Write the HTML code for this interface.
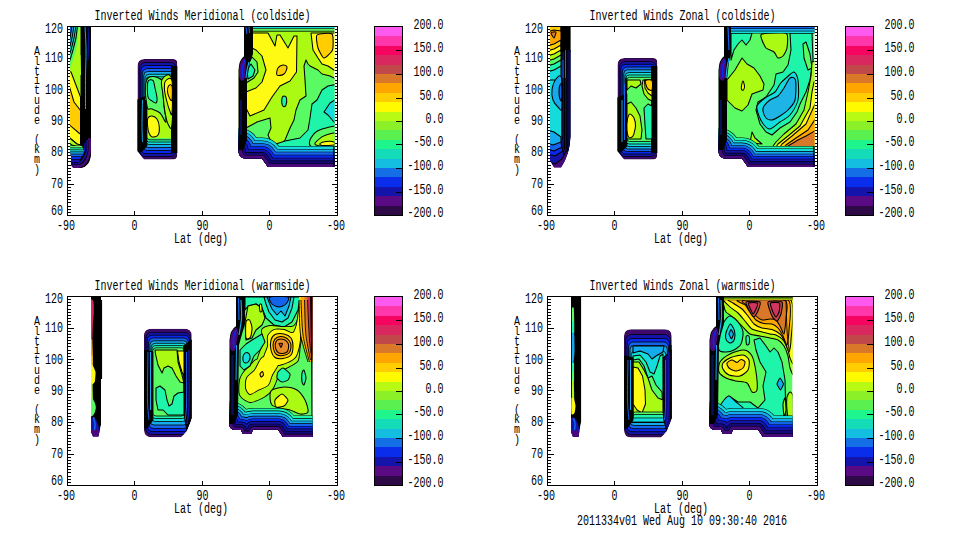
<!DOCTYPE html>
<html><head><meta charset="utf-8"><title>Inverted Winds</title>
<style>
html,body{margin:0;padding:0;background:#fff;}
svg{display:block}
text{font-family:"Liberation Mono",monospace;font-size:10px;fill:#000;}
</style></head><body>
<svg width="960" height="540" viewBox="0 0 960 540">
<defs><clipPath id="cp"><rect x="0" y="0" width="271" height="190"/></clipPath></defs>
<rect width="960" height="540" fill="#fff"/>
<g transform="translate(67,26)">
<path d="M0.5,189.5 h6 M270.5,189.5 h-6 M0.5,186.5 h3 M270.5,186.5 h-3 M0.5,183.5 h3 M270.5,183.5 h-3 M0.5,180.5 h3 M270.5,180.5 h-3 M0.5,176.5 h3 M270.5,176.5 h-3 M0.5,173.5 h3 M270.5,173.5 h-3 M0.5,170.5 h3 M270.5,170.5 h-3 M0.5,167.5 h3 M270.5,167.5 h-3 M0.5,164.5 h3 M270.5,164.5 h-3 M0.5,161.5 h3 M270.5,161.5 h-3 M0.5,158.5 h6 M270.5,158.5 h-6 M0.5,154.5 h3 M270.5,154.5 h-3 M0.5,151.5 h3 M270.5,151.5 h-3 M0.5,148.5 h3 M270.5,148.5 h-3 M0.5,145.5 h3 M270.5,145.5 h-3 M0.5,142.5 h3 M270.5,142.5 h-3 M0.5,139.5 h3 M270.5,139.5 h-3 M0.5,135.5 h3 M270.5,135.5 h-3 M0.5,132.5 h3 M270.5,132.5 h-3 M0.5,129.5 h3 M270.5,129.5 h-3 M0.5,126.5 h6 M270.5,126.5 h-6 M0.5,123.5 h3 M270.5,123.5 h-3 M0.5,120.5 h3 M270.5,120.5 h-3 M0.5,117.5 h3 M270.5,117.5 h-3 M0.5,113.5 h3 M270.5,113.5 h-3 M0.5,110.5 h3 M270.5,110.5 h-3 M0.5,107.5 h3 M270.5,107.5 h-3 M0.5,104.5 h3 M270.5,104.5 h-3 M0.5,101.5 h3 M270.5,101.5 h-3 M0.5,98.5 h3 M270.5,98.5 h-3 M0.5,94.5 h6 M270.5,94.5 h-6 M0.5,91.5 h3 M270.5,91.5 h-3 M0.5,88.5 h3 M270.5,88.5 h-3 M0.5,85.5 h3 M270.5,85.5 h-3 M0.5,82.5 h3 M270.5,82.5 h-3 M0.5,79.5 h3 M270.5,79.5 h-3 M0.5,76.5 h3 M270.5,76.5 h-3 M0.5,72.5 h3 M270.5,72.5 h-3 M0.5,69.5 h3 M270.5,69.5 h-3 M0.5,66.5 h3 M270.5,66.5 h-3 M0.5,63.5 h6 M270.5,63.5 h-6 M0.5,60.5 h3 M270.5,60.5 h-3 M0.5,57.5 h3 M270.5,57.5 h-3 M0.5,54.5 h3 M270.5,54.5 h-3 M0.5,50.5 h3 M270.5,50.5 h-3 M0.5,47.5 h3 M270.5,47.5 h-3 M0.5,44.5 h3 M270.5,44.5 h-3 M0.5,41.5 h3 M270.5,41.5 h-3 M0.5,38.5 h3 M270.5,38.5 h-3 M0.5,35.5 h3 M270.5,35.5 h-3 M0.5,32.5 h6 M270.5,32.5 h-6 M0.5,28.5 h3 M270.5,28.5 h-3 M0.5,25.5 h3 M270.5,25.5 h-3 M0.5,22.5 h3 M270.5,22.5 h-3 M0.5,19.5 h3 M270.5,19.5 h-3 M0.5,16.5 h3 M270.5,16.5 h-3 M0.5,13.5 h3 M270.5,13.5 h-3 M0.5,9.5 h3 M270.5,9.5 h-3 M0.5,6.5 h3 M270.5,6.5 h-3 M0.5,3.5 h3 M270.5,3.5 h-3 M0.5,0.5 h6 M270.5,0.5 h-6 M67.5,0.5 v5 M67.5,189.5 v-5 M135.5,0.5 v5 M135.5,189.5 v-5 M202.5,0.5 v5 M202.5,189.5 v-5" stroke="#000" stroke-width="1" fill="none" shape-rendering="crispEdges"/>
<g clip-path="url(#cp)"><g transform="translate(-67,-26)">
<clipPath id="b1"><path d="M70,25 H91 V152 Q91,168 78,168 H75 Q71,168 71,162 V156 L70,152 Z"/></clipPath>
<g clip-path="url(#b1)">
<path d="M70,25 H91 V152 Q91,168 78,168 H75 Q71,168 71,162 V156 L70,152 Z" fill="#000000"/>
<rect x="66" y="26" width="14.5" height="74" rx="0" fill="#aafa14"/>
<path d="M66.0,26.0 L79.0,26.0 L78.0,38.0 L76.0,50.0 L73.0,60.0 L70.0,68.0 L66.0,72.0 Z" fill="#5afa64"/>
<path d="M66.0,26.0 L77.5,26.0 L76.0,38.0 L73.0,50.0 L70.0,60.0 L66.0,66.0 Z" fill="#1ef5aa" stroke="#000" stroke-width="1.05" stroke-linejoin="round"/>
<path d="M66.0,26.0 L76.0,26.0 L74.0,38.0 L71.0,50.0 L69.0,56.0 L66.0,60.0 Z" fill="#14dcdc" stroke="#000" stroke-width="1.05" stroke-linejoin="round"/>
<path d="M66.0,26.0 L74.0,26.0 L72.0,38.0 L69.0,50.0 L66.0,55.0 Z" fill="#14aaeb" stroke="#000" stroke-width="1.05" stroke-linejoin="round"/>
<path d="M66.0,26.0 L72.0,26.0 L70.0,38.0 L68.0,46.0 L66.0,49.0 Z" fill="#1464eb" stroke="#000" stroke-width="1.05" stroke-linejoin="round"/>
<path d="M66.0,26.0 L70.0,26.0 L68.5,34.0 L66.0,41.0 Z" fill="#0a28eb" stroke="#000" stroke-width="1.05" stroke-linejoin="round"/>
<path d="M66.0,71.0 L71.0,72.0 L80.5,97.0 L80.5,146.0 L77.0,144.0 L66.0,135.0 Z" fill="#fffa14" stroke="#000" stroke-width="1.05" stroke-linejoin="round"/>
<path d="M66.0,75.0 L74.0,102.0 L80.5,110.5 L80.5,134.0 L79.5,133.5 L66.0,122.0 Z" fill="#ffcd00" stroke="#000" stroke-width="1.05" stroke-linejoin="round"/>
<path d="M66.0,135.0 L77.0,144.0 L81.0,145.0 L81.0,148.0 L66.0,148.0 Z" fill="#aafa14" stroke="#000" stroke-width="1.05" stroke-linejoin="round"/>
<path d="M66.0,141.0 L72.0,145.0 L78.0,147.0 L66.0,148.0 Z" fill="#5afa64" stroke="#000" stroke-width="1.05" stroke-linejoin="round"/>
<rect x="66" y="145.5" width="20" height="22.5" rx="0" fill="#000000"/>
<rect x="66" y="146" width="18" height="1.5" rx="0" fill="#5afa64"/>
<rect x="66" y="148.2" width="18" height="1.3000000000000114" rx="0" fill="#1ef5aa"/>
<rect x="66" y="150.2" width="18" height="1.3000000000000114" rx="0" fill="#14dcdc"/>
<rect x="66" y="152.2" width="18" height="1.5" rx="0" fill="#14aaeb"/>
<rect x="66" y="154.4" width="18" height="1.9000000000000057" rx="0" fill="#1464eb"/>
<rect x="66" y="157" width="18" height="2" rx="0" fill="#0a28eb"/>
<rect x="66" y="159.6" width="18" height="2.4000000000000057" rx="0" fill="#1414aa"/>
<rect x="66" y="162.5" width="18" height="2.0" rx="0" fill="#14087a"/>
<rect x="66" y="165" width="20" height="3" rx="0" fill="#480a7a"/>
<path d="M80.5,140.0 C82.0,138.3 89.1,131.0 91.0,136.0 C92.9,141.0 93.8,164.3 92.0,170.0 C90.2,175.7 82.0,171.7 80.0,170.0 C78.0,168.3 79.3,163.0 80.0,160.0 C80.7,157.0 83.7,154.3 84.0,152.0 C84.3,149.7 82.6,148.0 82.0,146.0 C81.4,144.0 79.0,141.7 80.5,140.0 Z" fill="#000000"/>
<path d="M89.5,138.0 C89.5,140.3 90.2,147.8 89.5,152.0 C88.8,156.2 86.9,160.5 85.0,163.0 C83.1,165.5 79.2,166.3 78.0,167.0" fill="none" stroke="#480a7a" stroke-width="2.5"/>
<path d="M87.0,140.0 C87.0,141.8 87.7,147.7 87.0,151.0 C86.3,154.3 84.5,157.8 83.0,160.0 C81.5,162.2 78.8,163.3 78.0,164.0" fill="none" stroke="#1414aa" stroke-width="1.5"/>
<path d="M85.0,143.0 C84.9,144.2 85.0,147.8 84.5,150.0 C84.0,152.2 82.4,155.0 82.0,156.0" fill="none" stroke="#0a28eb" stroke-width="1"/>
<path d="M85.0,26.0 C85.2,30.0 85.9,41.5 86.0,50.0 C86.1,58.5 85.6,67.2 85.5,77.0 C85.4,86.8 85.5,103.7 85.5,109.0" fill="none" stroke="#14aaeb" stroke-width="1"/>
<path d="M88.0,26.0 C88.1,28.3 88.5,34.3 88.5,40.0 C88.5,45.7 88.1,56.7 88.0,60.0" fill="none" stroke="#1414aa" stroke-width="1"/>
<path d="M80.0,55.0 L80.5,75.0" fill="none" stroke="#aafa14" stroke-width="1"/>
</g>
<clipPath id="b2"><path d="M137.5,66 Q137.5,59 144.5,59 H173 Q177.3,59 177.3,63 V155 Q177.3,159.5 173,159.5 H144 L137.5,151 Z"/></clipPath>
<g clip-path="url(#b2)">
<path d="M137.5,66 Q137.5,59 144.5,59 H173 Q177.3,59 177.3,63 V155 Q177.3,159.5 173,159.5 H144 L137.5,151 Z" fill="#2d0a46"/>
<rect x="138.3" y="60" width="38.5" height="98.6" rx="6" fill="#3e0a70"/>
<rect x="139.3" y="62.5" width="37.19999999999999" height="94.0" rx="6" fill="#1414aa" stroke="#000" stroke-width="0.8"/>
<rect x="140.8" y="65.5" width="35.19999999999999" height="88.0" rx="5" fill="#0a28eb" stroke="#000" stroke-width="0.8"/>
<rect x="142.3" y="68.5" width="33.19999999999999" height="82.0" rx="5" fill="#1464eb" stroke="#000" stroke-width="0.8"/>
<rect x="143.8" y="71.5" width="31.19999999999999" height="76.0" rx="4" fill="#14aaeb" stroke="#000" stroke-width="0.8"/>
<rect x="145" y="74.3" width="29.5" height="70.2" rx="4" fill="#14dcdc" stroke="#000" stroke-width="0.8"/>
<rect x="146" y="76.8" width="28" height="65.2" rx="3" fill="#1ef5aa" stroke="#000" stroke-width="0.8"/>
<rect x="146.8" y="79" width="26.69999999999999" height="60.80000000000001" rx="3" fill="#5afa64" stroke="#000" stroke-width="0.8"/>
<rect x="147.3" y="80" width="24.69999999999999" height="58" rx="1" fill="#aafa14"/>
<rect x="171" y="66" width="7" height="87" rx="0" fill="#000000"/>
<path d="M137.0,100.0 L146.8,96.0 L146.8,146.0 L141.0,152.0 L137.0,152.0 Z" fill="#000000" stroke="#000" stroke-width="1.05" stroke-linejoin="round"/>
<path d="M142.5,100.0 C142.4,104.2 142.0,118.0 142.0,125.0 C142.0,132.0 142.4,139.2 142.5,142.0" fill="none" stroke="#14aaeb" stroke-width="1"/>
<path d="M146.0,80.0 L145.5,100.0" fill="none" stroke="#14aaeb" stroke-width="1"/>
<path d="M147.0,79.5 C149.8,74.2 157.8,77.0 161.0,79.5 C164.2,82.0 162.4,86.7 163.0,92.0 C163.6,97.3 163.4,100.0 164.0,106.0 C164.6,112.0 166.8,120.6 166.0,122.0 C165.2,123.4 162.8,115.6 160.0,113.0 C157.2,110.4 154.6,110.4 152.0,109.0 C149.4,107.6 148.0,111.9 147.0,106.0 C146.0,100.1 144.2,84.8 147.0,79.5 Z" fill="#5afa64" stroke="#000" stroke-width="1.05"/>
<path d="M147.8,82.0 C148.6,79.2 151.8,79.5 153.0,80.5 C154.2,81.5 154.3,85.1 155.0,88.0 C155.7,90.9 156.8,95.5 157.0,98.0 C157.2,100.5 156.8,102.5 156.0,103.0 C155.2,103.5 153.3,102.0 152.0,101.0 C150.7,100.0 148.7,100.2 148.0,97.0 C147.3,93.8 147.0,84.8 147.8,82.0 Z" fill="#1ef5aa" stroke="#000" stroke-width="1.05"/>
<path d="M162.0,79.5 C163.8,76.4 170.0,70.6 172.0,79.5 C174.0,88.4 172.8,115.1 172.0,124.0 C171.2,132.9 169.4,126.4 168.0,124.0 C166.6,121.6 166.0,117.8 165.0,112.0 C164.0,106.2 163.6,101.5 163.0,95.0 C162.4,88.5 160.2,82.6 162.0,79.5 Z" fill="#aafa14" stroke="#000" stroke-width="1.05"/>
<path d="M165.5,81.0 C166.8,79.5 170.9,75.7 172.0,81.0 C173.1,86.3 172.4,108.2 172.0,113.0 C171.6,117.8 170.4,112.2 169.5,110.0 C168.6,107.8 167.3,103.3 166.5,100.0 C165.7,96.7 164.7,93.2 164.5,90.0 C164.3,86.8 164.2,82.5 165.5,81.0 Z" fill="#fffa14" stroke="#000" stroke-width="1.05"/>
<path d="M168.5,86.0 C169.2,85.0 171.4,83.7 172.0,86.0 C172.6,88.3 172.4,98.0 172.0,100.0 C171.6,102.0 170.2,99.3 169.5,98.0 C168.8,96.7 167.7,94.0 167.5,92.0 C167.3,90.0 167.8,87.0 168.5,86.0 Z" fill="#ffcd00" stroke="#000" stroke-width="1.05"/>
<path d="M148.0,118.0 C148.8,116.5 150.5,115.8 152.0,116.0 C153.5,116.2 155.8,117.2 157.0,119.0 C158.2,120.8 159.1,124.3 159.3,127.0 C159.5,129.7 159.2,133.3 158.0,135.0 C156.8,136.7 153.5,137.3 152.0,137.0 C150.5,136.7 149.8,135.0 149.0,133.0 C148.2,131.0 147.7,127.5 147.5,125.0 C147.3,122.5 147.2,119.5 148.0,118.0 Z" fill="#fffa14" stroke="#000" stroke-width="1.05"/>
</g>
<clipPath id="b3"><path d="M244,25 V56 Q239,60 238.5,70 V150 Q238.5,158.5 246,158.5 H262 L268,167 H334.5 V25 Z"/></clipPath>
<g clip-path="url(#b3)">
<path d="M244,25 V56 Q239,60 238.5,70 V150 Q238.5,158.5 246,158.5 H262 L268,167 H334.5 V25 Z" fill="#aafa14"/>
<rect x="250" y="26" width="88" height="2.6000000000000014" rx="0" fill="#14dcdc"/>
<rect x="250" y="28.4" width="88" height="0.8000000000000007" rx="0" fill="#000000"/>
<rect x="250" y="29.2" width="88" height="1.8000000000000007" rx="0" fill="#5afa64"/>
<rect x="250" y="30.8" width="88" height="0.8000000000000007" rx="0" fill="#000000"/>
<path d="M252.0,33.0 L268.0,33.0 L275.0,46.0 L277.0,35.0 L280.0,35.0 L288.0,48.0 L294.0,36.0 L297.0,36.0 L296.5,72.0 L290.0,81.0 L280.0,86.0 L272.0,97.0 L264.0,110.0 L250.0,116.0 L246.0,108.0 L246.0,92.0 L256.0,88.0 L262.0,82.0 L266.0,70.0 L262.0,56.0 L256.0,50.0 L252.0,48.0 Z" fill="#fffa14" stroke="#000" stroke-width="1.05" stroke-linejoin="round"/>
<path d="M311.0,33.0 L338.0,33.0 L338.0,72.0 L334.0,70.0 L328.0,66.0 L322.0,64.0 L318.0,58.0 L313.0,50.0 Z" fill="#fffa14" stroke="#000" stroke-width="1.05" stroke-linejoin="round"/>
<path d="M317.0,35.0 C318.4,33.6 330.4,32.5 332.0,34.0 C333.6,35.5 333.3,47.6 332.5,50.0 C331.7,52.4 325.4,58.2 324.0,58.0 C322.6,57.8 318.7,50.3 318.0,48.0 C317.3,45.7 315.6,36.4 317.0,35.0 Z" fill="#ffcd00" stroke="#000" stroke-width="1.05"/>
<path d="M278.0,68.0 C279.0,66.3 281.5,65.2 283.0,65.0 C284.5,64.8 286.8,65.5 287.0,67.0 C287.2,68.5 285.7,72.7 284.0,74.0 C282.3,75.3 278.0,76.0 277.0,75.0 C276.0,74.0 277.0,69.7 278.0,68.0 Z" fill="#ffcd00" stroke="#000" stroke-width="1.05"/>
<path d="M304.0,66.0 L306.0,60.0 L308.0,64.0 L310.0,66.0 L318.0,70.0 L322.0,74.0 L330.0,76.0 L338.0,80.0 L338.0,152.0 L246.0,152.0 L246.0,128.0 L257.0,122.0 L270.0,118.0 L271.0,128.0 L268.0,135.0 L272.0,144.0 L280.0,145.0 L285.0,140.0 L290.0,128.0 L294.0,120.0 L296.0,110.0 L300.0,100.0 L306.0,96.0 L305.0,80.0 Z" fill="#5afa64" stroke="#000" stroke-width="1.05" stroke-linejoin="round"/>
<path d="M338.0,84.0 L328.0,86.0 L322.0,90.0 L317.0,100.0 L312.0,104.0 L310.0,118.0 L308.0,130.0 L300.0,138.0 L285.0,141.0 L270.0,146.0 L246.0,138.0 L246.0,154.0 L338.0,154.0 Z" fill="#1ef5aa" stroke="#000" stroke-width="1.05" stroke-linejoin="round"/>
<path d="M338.0,98.0 L330.0,103.0 L324.0,112.0 L328.0,115.0 L334.0,122.0 L338.0,126.0 Z" fill="#14dcdc" stroke="#000" stroke-width="1.05" stroke-linejoin="round"/>
<path d="M340.0,127.0 C338.1,123.9 329.2,127.3 326.0,128.0 C322.8,128.7 318.1,130.4 316.0,132.0 C313.9,133.6 310.5,138.0 310.0,140.0 C309.5,142.0 308.0,145.5 312.0,147.0 C316.0,148.5 336.3,153.7 340.0,151.0 C343.7,148.3 341.9,130.1 340.0,127.0 Z" fill="#5afa64" stroke="#000" stroke-width="1.05"/>
<path d="M340.0,133.0 C338.1,131.3 328.9,134.1 326.0,135.0 C323.1,135.9 319.3,138.7 318.0,140.0 C316.7,141.3 313.1,143.9 316.0,145.0 C318.9,146.1 336.8,149.6 340.0,148.0 C343.2,146.4 341.9,134.7 340.0,133.0 Z" fill="#aafa14" stroke="#000" stroke-width="1.05"/>
<path d="M320.0,143.5 C320.5,143.0 324.1,141.7 326.0,141.5 C327.9,141.3 332.9,141.5 334.0,142.0 C335.1,142.5 335.6,144.5 334.0,145.0 C332.4,145.5 323.9,145.7 322.0,145.5 C320.1,145.3 319.5,144.0 320.0,143.5 Z" fill="#fffa14" stroke="#000" stroke-width="1.05"/>
<path d="M282.0,98.0 C282.3,96.7 283.2,96.0 284.0,96.0 C284.8,96.0 286.2,96.5 286.5,98.0 C286.8,99.5 286.5,103.6 286.0,105.0 C285.5,106.4 284.2,106.7 283.5,106.5 C282.8,106.3 282.2,105.4 282.0,104.0 C281.8,102.6 281.7,99.3 282.0,98.0 Z" fill="#1ef5aa" stroke="#000" stroke-width="1.05"/>
<path d="M252.0,57.0 L257.0,62.0 L258.0,72.0 L254.0,78.0 L246.0,83.0 L246.0,68.0 Z" fill="#5afa64" stroke="#000" stroke-width="1.05" stroke-linejoin="round"/>
<path d="M251.0,64.0 L255.0,70.0 L253.0,76.0 L248.0,79.0 L247.0,70.0 Z" fill="#1ef5aa" stroke="#000" stroke-width="1.05" stroke-linejoin="round"/>
<path d="M239,149 Q239,158.5 246,158.5 H262 L268,167 H342" fill="none" stroke="#000" stroke-width="42.1" stroke-linejoin="round" stroke-linecap="round"/>
<path d="M239,149 Q239,158.5 246,158.5 H262 L268,167 H342" fill="none" stroke="#14dcdc" stroke-width="41.0" stroke-linejoin="round" stroke-linecap="round"/>
<path d="M239,149 Q239,158.5 246,158.5 H262 L268,167 H342" fill="none" stroke="#000" stroke-width="36.24285714285715" stroke-linejoin="round" stroke-linecap="round"/>
<path d="M239,149 Q239,158.5 246,158.5 H262 L268,167 H342" fill="none" stroke="#14aaeb" stroke-width="35.142857142857146" stroke-linejoin="round" stroke-linecap="round"/>
<path d="M239,149 Q239,158.5 246,158.5 H262 L268,167 H342" fill="none" stroke="#000" stroke-width="30.385714285714286" stroke-linejoin="round" stroke-linecap="round"/>
<path d="M239,149 Q239,158.5 246,158.5 H262 L268,167 H342" fill="none" stroke="#1464eb" stroke-width="29.285714285714285" stroke-linejoin="round" stroke-linecap="round"/>
<path d="M239,149 Q239,158.5 246,158.5 H262 L268,167 H342" fill="none" stroke="#000" stroke-width="24.52857142857143" stroke-linejoin="round" stroke-linecap="round"/>
<path d="M239,149 Q239,158.5 246,158.5 H262 L268,167 H342" fill="none" stroke="#0a28eb" stroke-width="23.428571428571427" stroke-linejoin="round" stroke-linecap="round"/>
<path d="M239,149 Q239,158.5 246,158.5 H262 L268,167 H342" fill="none" stroke="#000" stroke-width="18.671428571428574" stroke-linejoin="round" stroke-linecap="round"/>
<path d="M239,149 Q239,158.5 246,158.5 H262 L268,167 H342" fill="none" stroke="#1414aa" stroke-width="17.571428571428573" stroke-linejoin="round" stroke-linecap="round"/>
<path d="M239,149 Q239,158.5 246,158.5 H262 L268,167 H342" fill="none" stroke="#000" stroke-width="12.814285714285713" stroke-linejoin="round" stroke-linecap="round"/>
<path d="M239,149 Q239,158.5 246,158.5 H262 L268,167 H342" fill="none" stroke="#14087a" stroke-width="11.714285714285714" stroke-linejoin="round" stroke-linecap="round"/>
<path d="M239,149 Q239,158.5 246,158.5 H262 L268,167 H342" fill="none" stroke="#000" stroke-width="6.957142857142857" stroke-linejoin="round" stroke-linecap="round"/>
<path d="M239,149 Q239,158.5 246,158.5 H262 L268,167 H342" fill="none" stroke="#480a7a" stroke-width="5.857142857142857" stroke-linejoin="round" stroke-linecap="round"/>
<path d="M244.0,25.0 L253.0,25.0 L253.0,54.0 L250.0,62.0 L247.0,80.0 L247.0,140.0 L243.0,150.0 L238.0,150.0 L238.0,70.0 L239.0,60.0 L244.0,56.0 Z" fill="#000000"/>
<path d="M244.0,58.0 C243.1,58.2 241.3,60.7 240.5,63.0 C239.7,65.3 239.1,69.3 239.0,72.0 C238.9,74.7 239.2,77.7 240.0,79.0 C240.8,80.3 243.1,81.5 244.0,80.0 C244.9,78.5 245.2,73.0 245.5,70.0 C245.8,67.0 246.2,64.0 246.0,62.0 C245.8,60.0 244.9,57.8 244.0,58.0 Z" fill="#480a7a"/>
<path d="M245.0,60.0 C244.6,61.3 242.8,65.0 242.5,68.0 C242.2,71.0 242.9,76.3 243.0,78.0" fill="none" stroke="#0a28eb" stroke-width="1.5"/>
<path d="M249.0,62.0 C248.7,63.3 247.5,67.3 247.0,70.0 C246.5,72.7 246.2,76.7 246.0,78.0" fill="none" stroke="#14aaeb" stroke-width="1.2"/>
<path d="M246.0,27.0 L247.0,34.0" fill="none" stroke="#1464eb" stroke-width="1"/>
<path d="M249.0,27.0 L249.5,33.0" fill="none" stroke="#1464eb" stroke-width="1"/>
<path d="M241.0,100.0 L241.0,135.0" fill="none" stroke="#0a1055" stroke-width="2"/>
<path d="M334.0,146.0 L334.0,168.0" fill="none" stroke="#000000" stroke-width="1.6"/>
</g>
</g></g>
<path d="M0.5,0.5 H270.5 V189.5 H0.5 Z" fill="none" stroke="#000" stroke-width="1" shape-rendering="crispEdges"/>
<text transform="translate(135.5,-6) scale(1,1.38)" text-anchor="middle" >Inverted Winds Meridional (coldside)</text>
<text transform="translate(-1.0,204) scale(1,1.38)" text-anchor="middle" >-90</text>
<text transform="translate(67.5,204) scale(1,1.38)" text-anchor="middle" >0</text>
<text transform="translate(135.5,204) scale(1,1.38)" text-anchor="middle" >90</text>
<text transform="translate(202.5,204) scale(1,1.38)" text-anchor="middle" >0</text>
<text transform="translate(269.0,204) scale(1,1.38)" text-anchor="middle" >-90</text>
<text transform="translate(134.0,217) scale(1,1.38)" text-anchor="middle" >Lat (deg)</text>
<text transform="translate(-4,189) scale(1,1.38)" text-anchor="end" >60</text>
<text transform="translate(-4,162) scale(1,1.38)" text-anchor="end" >70</text>
<text transform="translate(-4,130) scale(1,1.38)" text-anchor="end" >80</text>
<text transform="translate(-4,99) scale(1,1.38)" text-anchor="end" >90</text>
<text transform="translate(-4,68) scale(1,1.38)" text-anchor="end" >100</text>
<text transform="translate(-4,36) scale(1,1.38)" text-anchor="end" >110</text>
<text transform="translate(-4,7) scale(1,1.38)" text-anchor="end" >120</text>
<text transform="translate(-30,29.0) scale(1,1.22)" text-anchor="middle">A</text>
<text transform="translate(-30,38.8) scale(1,1.22)" text-anchor="middle">l</text>
<text transform="translate(-30,48.6) scale(1,1.22)" text-anchor="middle">t</text>
<text transform="translate(-30,58.4) scale(1,1.22)" text-anchor="middle">i</text>
<text transform="translate(-30,68.2) scale(1,1.22)" text-anchor="middle">t</text>
<text transform="translate(-30,78.0) scale(1,1.22)" text-anchor="middle">u</text>
<text transform="translate(-30,87.8) scale(1,1.22)" text-anchor="middle">d</text>
<text transform="translate(-30,97.6) scale(1,1.22)" text-anchor="middle">e</text>
<text transform="translate(-30,117.2) scale(1,1.22)" text-anchor="middle">(</text>
<text transform="translate(-30,127.0) scale(1,1.22)" text-anchor="middle">k</text>
<text transform="translate(-30,136.8) scale(1,1.22)" text-anchor="middle">m</text>
<text transform="translate(-30,146.6) scale(1,1.22)" text-anchor="middle">)</text>
<rect x="307" y="1.00" width="29" height="9.90" fill="#ff5af0" shape-rendering="crispEdges"/>
<rect x="307" y="10.40" width="29" height="9.90" fill="#ff37aa" shape-rendering="crispEdges"/>
<rect x="307" y="19.80" width="29" height="9.90" fill="#f5055f" shape-rendering="crispEdges"/>
<rect x="307" y="29.20" width="29" height="9.90" fill="#d8285f" shape-rendering="crispEdges"/>
<rect x="307" y="38.60" width="29" height="9.90" fill="#c04848" shape-rendering="crispEdges"/>
<rect x="307" y="48.00" width="29" height="9.90" fill="#d87828" shape-rendering="crispEdges"/>
<rect x="307" y="57.40" width="29" height="9.90" fill="#ffa500" shape-rendering="crispEdges"/>
<rect x="307" y="66.80" width="29" height="9.90" fill="#ffcd00" shape-rendering="crispEdges"/>
<rect x="307" y="76.20" width="29" height="9.90" fill="#fffa00" shape-rendering="crispEdges"/>
<rect x="307" y="85.60" width="29" height="9.90" fill="#b9fa14" shape-rendering="crispEdges"/>
<rect x="307" y="95.00" width="29" height="9.90" fill="#8cf028" shape-rendering="crispEdges"/>
<rect x="307" y="104.40" width="29" height="9.90" fill="#5af050" shape-rendering="crispEdges"/>
<rect x="307" y="113.80" width="29" height="9.90" fill="#1ef58c" shape-rendering="crispEdges"/>
<rect x="307" y="123.20" width="29" height="9.90" fill="#14dcb9" shape-rendering="crispEdges"/>
<rect x="307" y="132.60" width="29" height="9.90" fill="#14bee1" shape-rendering="crispEdges"/>
<rect x="307" y="142.00" width="29" height="9.90" fill="#146ee6" shape-rendering="crispEdges"/>
<rect x="307" y="151.40" width="29" height="9.90" fill="#0a2deb" shape-rendering="crispEdges"/>
<rect x="307" y="160.80" width="29" height="9.90" fill="#1414aa" shape-rendering="crispEdges"/>
<rect x="307" y="170.20" width="29" height="9.90" fill="#5a0a82" shape-rendering="crispEdges"/>
<rect x="307" y="179.60" width="29" height="9.90" fill="#2d0a46" shape-rendering="crispEdges"/>
<path d="M307.5,0.5 h28 v189 h-28 Z" fill="none" stroke="#000" shape-rendering="crispEdges"/>
<text transform="translate(376.5,3) scale(1,1.38)" text-anchor="end" >200.0</text>
<text transform="translate(376.5,26) scale(1,1.38)" text-anchor="end" >150.0</text>
<text transform="translate(376.5,50) scale(1,1.38)" text-anchor="end" >100.0</text>
<text transform="translate(376.5,74) scale(1,1.38)" text-anchor="end" >50.0</text>
<text transform="translate(376.5,97) scale(1,1.38)" text-anchor="end" >0.0</text>
<text transform="translate(376.5,120) scale(1,1.38)" text-anchor="end" >-50.0</text>
<text transform="translate(376.5,144) scale(1,1.38)" text-anchor="end" >-100.0</text>
<text transform="translate(376.5,168) scale(1,1.38)" text-anchor="end" >-150.0</text>
<text transform="translate(376.5,191) scale(1,1.38)" text-anchor="end" >-200.0</text>
<path d="M335.5,24.5 h-7 M335.5,48.5 h-7 M335.5,72.5 h-7 M335.5,95.5 h-7 M335.5,118.5 h-7 M335.5,142.5 h-7 M335.5,166.5 h-7" stroke="#000" stroke-width="1" fill="none" shape-rendering="crispEdges"/>
</g>
<g transform="translate(547,26)">
<path d="M0.5,189.5 h6 M270.5,189.5 h-6 M0.5,186.5 h3 M270.5,186.5 h-3 M0.5,183.5 h3 M270.5,183.5 h-3 M0.5,180.5 h3 M270.5,180.5 h-3 M0.5,176.5 h3 M270.5,176.5 h-3 M0.5,173.5 h3 M270.5,173.5 h-3 M0.5,170.5 h3 M270.5,170.5 h-3 M0.5,167.5 h3 M270.5,167.5 h-3 M0.5,164.5 h3 M270.5,164.5 h-3 M0.5,161.5 h3 M270.5,161.5 h-3 M0.5,158.5 h6 M270.5,158.5 h-6 M0.5,154.5 h3 M270.5,154.5 h-3 M0.5,151.5 h3 M270.5,151.5 h-3 M0.5,148.5 h3 M270.5,148.5 h-3 M0.5,145.5 h3 M270.5,145.5 h-3 M0.5,142.5 h3 M270.5,142.5 h-3 M0.5,139.5 h3 M270.5,139.5 h-3 M0.5,135.5 h3 M270.5,135.5 h-3 M0.5,132.5 h3 M270.5,132.5 h-3 M0.5,129.5 h3 M270.5,129.5 h-3 M0.5,126.5 h6 M270.5,126.5 h-6 M0.5,123.5 h3 M270.5,123.5 h-3 M0.5,120.5 h3 M270.5,120.5 h-3 M0.5,117.5 h3 M270.5,117.5 h-3 M0.5,113.5 h3 M270.5,113.5 h-3 M0.5,110.5 h3 M270.5,110.5 h-3 M0.5,107.5 h3 M270.5,107.5 h-3 M0.5,104.5 h3 M270.5,104.5 h-3 M0.5,101.5 h3 M270.5,101.5 h-3 M0.5,98.5 h3 M270.5,98.5 h-3 M0.5,94.5 h6 M270.5,94.5 h-6 M0.5,91.5 h3 M270.5,91.5 h-3 M0.5,88.5 h3 M270.5,88.5 h-3 M0.5,85.5 h3 M270.5,85.5 h-3 M0.5,82.5 h3 M270.5,82.5 h-3 M0.5,79.5 h3 M270.5,79.5 h-3 M0.5,76.5 h3 M270.5,76.5 h-3 M0.5,72.5 h3 M270.5,72.5 h-3 M0.5,69.5 h3 M270.5,69.5 h-3 M0.5,66.5 h3 M270.5,66.5 h-3 M0.5,63.5 h6 M270.5,63.5 h-6 M0.5,60.5 h3 M270.5,60.5 h-3 M0.5,57.5 h3 M270.5,57.5 h-3 M0.5,54.5 h3 M270.5,54.5 h-3 M0.5,50.5 h3 M270.5,50.5 h-3 M0.5,47.5 h3 M270.5,47.5 h-3 M0.5,44.5 h3 M270.5,44.5 h-3 M0.5,41.5 h3 M270.5,41.5 h-3 M0.5,38.5 h3 M270.5,38.5 h-3 M0.5,35.5 h3 M270.5,35.5 h-3 M0.5,32.5 h6 M270.5,32.5 h-6 M0.5,28.5 h3 M270.5,28.5 h-3 M0.5,25.5 h3 M270.5,25.5 h-3 M0.5,22.5 h3 M270.5,22.5 h-3 M0.5,19.5 h3 M270.5,19.5 h-3 M0.5,16.5 h3 M270.5,16.5 h-3 M0.5,13.5 h3 M270.5,13.5 h-3 M0.5,9.5 h3 M270.5,9.5 h-3 M0.5,6.5 h3 M270.5,6.5 h-3 M0.5,3.5 h3 M270.5,3.5 h-3 M0.5,0.5 h6 M270.5,0.5 h-6 M67.5,0.5 v5 M67.5,189.5 v-5 M135.5,0.5 v5 M135.5,189.5 v-5 M202.5,0.5 v5 M202.5,189.5 v-5" stroke="#000" stroke-width="1" fill="none" shape-rendering="crispEdges"/>
<g clip-path="url(#cp)"><g transform="translate(-547,-26)">
<clipPath id="b4"><path d="M550,25 H570.5 V136 Q570,154 561,167.5 H554 L550,160 Z"/></clipPath>
<g clip-path="url(#b4)">
<path d="M550,25 H570.5 V136 Q570,154 561,167.5 H554 L550,160 Z" fill="#000000"/>
<rect x="561" y="50" width="10" height="118" rx="0" fill="#0e0e66"/>
<rect x="547" y="60" width="14.5" height="80" rx="0" fill="#14dcdc"/>
<path d="M547.0,26.0 L561.0,26.0 L561.0,46.0 L547.0,50.0 Z" fill="#ffa500"/>
<path d="M547.0,26.0 L561.0,26.0 L561.0,31.0 L554.0,30.0 L547.0,32.0 Z" fill="#ffcd00" stroke="#000" stroke-width="1.05" stroke-linejoin="round"/>
<path d="M551.0,33.0 C551.2,32.4 555.7,31.5 556.0,32.0 C556.3,32.5 554.5,37.9 554.0,38.0 C553.5,38.1 550.8,33.6 551.0,33.0 Z" fill="#d87828" stroke="#000" stroke-width="1.05"/>
<path d="M547.0,46.0 L554.0,44.0 L561.0,40.0 L561.0,46.0 L554.0,50.0 L547.0,52.0 Z" fill="#ffcd00" stroke="#000" stroke-width="1.05" stroke-linejoin="round"/>
<path d="M547.0,51.0 L554.0,49.0 L561.0,45.0 L561.0,51.0 L554.0,55.0 L547.0,57.0 Z" fill="#fffa14" stroke="#000" stroke-width="1.05" stroke-linejoin="round"/>
<path d="M547.0,56.0 L554.0,54.0 L561.0,50.0 L561.0,56.0 L554.0,60.0 L547.0,62.0 Z" fill="#aafa14" stroke="#000" stroke-width="1.05" stroke-linejoin="round"/>
<path d="M547.0,61.0 L554.0,59.0 L561.0,55.0 L561.0,61.0 L554.0,65.0 L547.0,67.0 Z" fill="#5afa64" stroke="#000" stroke-width="1.05" stroke-linejoin="round"/>
<path d="M547.0,66.0 L554.0,64.0 L561.0,60.0 L561.0,67.0 L554.0,71.0 L547.0,73.0 Z" fill="#1ef5aa" stroke="#000" stroke-width="1.05" stroke-linejoin="round"/>
<path d="M547.0,72.0 L554.0,70.0 L561.0,66.0 L561.0,80.0 L547.0,80.0 Z" fill="#14dcdc" stroke="#000" stroke-width="1.05" stroke-linejoin="round"/>
<path d="M556.0,79.0 C557.6,77.0 560.5,73.2 561.5,78.0 C562.5,82.8 562.6,103.2 562.0,108.0 C561.4,112.8 559.5,108.3 558.0,107.0 C556.5,105.7 554.0,102.8 553.0,100.0 C552.0,97.2 551.5,93.5 552.0,90.0 C552.5,86.5 554.4,81.0 556.0,79.0 Z" fill="#14aaeb" stroke="#000" stroke-width="1.05"/>
<path d="M560.0,85.0 C560.5,83.8 561.7,82.5 562.0,85.0 C562.3,87.5 562.3,97.7 562.0,100.0 C561.7,102.3 560.5,100.3 560.0,99.0 C559.5,97.7 559.0,94.3 559.0,92.0 C559.0,89.7 559.5,86.2 560.0,85.0 Z" fill="#1464eb" stroke="#000" stroke-width="1.05"/>
<path d="M547.0,130.0 L554.0,132.0 L561.0,137.0 L561.0,160.0 L547.0,160.0 Z" fill="#14aaeb" stroke="#000" stroke-width="1.05" stroke-linejoin="round"/>
<path d="M547.0,143.0 L553.0,145.0 L561.0,142.0 L563.0,160.0 L547.0,160.0 Z" fill="#1464eb" stroke="#000" stroke-width="1.05" stroke-linejoin="round"/>
<path d="M547.0,149.0 L554.0,151.0 L562.0,147.0 L564.0,160.0 L547.0,162.0 Z" fill="#0a28eb" stroke="#000" stroke-width="1.05" stroke-linejoin="round"/>
<path d="M547.0,154.0 L555.0,156.0 L563.0,151.0 L566.0,165.0 L547.0,165.0 Z" fill="#1414aa" stroke="#000" stroke-width="1.05" stroke-linejoin="round"/>
<path d="M546.0,161.0 L555.0,164.0 L562.0,159.0 L566.0,152.0 L571.0,148.0 L571.0,170.0 L546.0,170.0 Z" fill="#480a7a" stroke="#000" stroke-width="1.05" stroke-linejoin="round"/>
<rect x="560.5" y="26" width="10.5" height="26" rx="0" fill="#000000"/>
<path d="M562.0,50.0 L562.0,140.0" fill="none" stroke="#000000" stroke-width="1"/>
<path d="M564.5,50.0 L564.5,150.0" fill="none" stroke="#000000" stroke-width="1"/>
<path d="M567.0,40.0 L567.0,150.0" fill="none" stroke="#000000" stroke-width="1.5"/>
<rect x="567.5" y="50" width="3.5" height="100" rx="0" fill="#0a0840"/>
<path d="M565.5,50.0 L565.5,78.0" fill="none" stroke="#1464eb" stroke-width="1"/>
<path d="M563.0,60.0 L563.0,78.0" fill="none" stroke="#1464eb" stroke-width="1"/>
</g>
<clipPath id="b5"><path d="M617.5,65 Q617.5,58 624.5,58 H653 Q657.3,58 657.3,62 V155 Q657.3,159.5 653,159.5 H624 L617.5,151 Z"/></clipPath>
<g clip-path="url(#b5)">
<path d="M617.5,65 Q617.5,58 624.5,58 H653 Q657.3,58 657.3,62 V155 Q657.3,159.5 653,159.5 H624 L617.5,151 Z" fill="#2d0a46"/>
<rect x="618.3" y="59" width="38.5" height="99.6" rx="6" fill="#3e0a70"/>
<rect x="619.3" y="61.5" width="37.200000000000045" height="95.0" rx="6" fill="#1414aa" stroke="#000" stroke-width="0.8"/>
<rect x="620.8" y="64.3" width="35.200000000000045" height="89.7" rx="5" fill="#0a28eb" stroke="#000" stroke-width="0.8"/>
<rect x="622.3" y="67" width="33.200000000000045" height="84.5" rx="5" fill="#1464eb" stroke="#000" stroke-width="0.8"/>
<rect x="623.8" y="69.8" width="31.200000000000045" height="79.2" rx="4" fill="#14aaeb" stroke="#000" stroke-width="0.8"/>
<rect x="625" y="72.5" width="29.5" height="74.0" rx="4" fill="#14dcdc" stroke="#000" stroke-width="0.8"/>
<rect x="626" y="75" width="28" height="69" rx="3" fill="#1ef5aa" stroke="#000" stroke-width="0.8"/>
<rect x="626.6" y="77.3" width="26.899999999999977" height="64.2" rx="3" fill="#5afa64" stroke="#000" stroke-width="0.8"/>
<rect x="627" y="79.5" width="25" height="59.5" rx="1" fill="#5afa64"/>
<rect x="651" y="66" width="7" height="87" rx="0" fill="#000000"/>
<path d="M617.0,98.0 L626.8,94.0 L626.8,146.0 L621.0,152.0 L617.0,152.0 Z" fill="#000000" stroke="#000" stroke-width="1.05" stroke-linejoin="round"/>
<path d="M626.0,78.0 L626.0,96.0" fill="none" stroke="#000000" stroke-width="1.5"/>
<path d="M622.0,100.0 L622.0,142.0" fill="none" stroke="#14aaeb" stroke-width="1"/>
<path d="M624.5,84.0 L624.5,140.0" fill="none" stroke="#1464eb" stroke-width="1"/>
<path d="M627.0,80.0 L640.0,80.0 L641.0,84.0 L636.0,88.0 L631.0,86.0 L627.0,90.0 Z" fill="#aafa14" stroke="#000" stroke-width="1.05" stroke-linejoin="round"/>
<path d="M643.0,80.0 L652.0,80.0 L652.0,101.0 L648.0,99.0 L644.0,94.0 L642.0,86.0 Z" fill="#aafa14" stroke="#000" stroke-width="1.05" stroke-linejoin="round"/>
<path d="M644.5,80.0 L652.0,80.0 L652.0,96.0 L648.0,93.0 L645.0,88.0 Z" fill="#fffa14" stroke="#000" stroke-width="1.05" stroke-linejoin="round"/>
<path d="M645.5,80.5 C646.3,79.9 651.1,79.2 652.0,80.5 C652.9,81.8 652.5,88.9 652.0,90.0 C651.5,91.1 648.8,89.7 648.0,89.0 C647.2,88.3 646.3,86.1 646.0,85.0 C645.7,83.9 644.7,81.1 645.5,80.5 Z" fill="#ffcd00" stroke="#000" stroke-width="1.05"/>
<path d="M627.0,104.0 L631.0,102.0 L636.0,108.0 L640.0,116.0 L642.0,130.0 L641.0,139.0 L627.0,139.0 Z" fill="#aafa14" stroke="#000" stroke-width="1.05" stroke-linejoin="round"/>
<path d="M627.5,119.0 C627.9,116.9 629.1,114.1 630.0,114.0 C630.9,113.9 633.3,116.4 634.0,118.0 C634.7,119.6 635.6,123.6 635.5,126.0 C635.4,128.4 633.9,134.5 633.0,136.0 C632.1,137.5 629.8,138.3 629.0,137.5 C628.2,136.7 627.2,132.5 627.0,130.0 C626.8,127.5 627.1,121.1 627.5,119.0 Z" fill="#fffa14" stroke="#000" stroke-width="1.05"/>
<path d="M644.0,108.0 L648.0,104.0 L652.0,106.0 L652.0,139.0 L646.0,139.0 L645.0,125.0 Z" fill="#1ef5aa" stroke="#000" stroke-width="1.05" stroke-linejoin="round"/>
</g>
<clipPath id="b6"><path d="M724,25 V56 Q719,60 718.5,70 V150 Q718.5,158.5 726,158.5 H742 L748,167 H814.5 V25 Z"/></clipPath>
<g clip-path="url(#b6)">
<path d="M724,25 V56 Q719,60 718.5,70 V150 Q718.5,158.5 726,158.5 H742 L748,167 H814.5 V25 Z" fill="#5afa64"/>
<path d="M731.0,33.0 L752.0,33.0 L750.0,40.0 L746.0,45.0 L742.0,40.0 L738.0,44.0 L734.0,50.0 L731.0,60.0 Z" fill="#1ef5aa" stroke="#000" stroke-width="1.05" stroke-linejoin="round"/>
<path d="M790.0,33.0 L812.0,33.0 L813.0,60.0 L810.0,80.0 L806.0,92.0 L800.0,104.0 L797.0,112.0 L790.0,122.0 L780.0,128.0 L772.0,135.0 L766.0,132.0 L760.0,124.0 L756.0,110.0 L758.0,102.0 L766.0,97.0 L774.0,85.0 L776.0,74.0 L783.0,72.0 L788.0,65.0 L791.0,50.0 Z" fill="#1ef5aa" stroke="#000" stroke-width="1.05" stroke-linejoin="round"/>
<path d="M803.0,44.0 L806.0,42.0 L810.0,54.0 L812.0,68.0 L808.0,70.0 L804.0,58.0 Z" fill="#5afa64" stroke="#000" stroke-width="1.05" stroke-linejoin="round"/>
<path d="M757.0,106.0 C757.8,103.6 762.6,99.9 765.0,98.0 C767.4,96.1 773.0,93.9 775.0,92.0 C777.0,90.1 778.5,85.9 780.0,84.0 C781.5,82.1 784.1,79.6 786.0,78.0 C787.9,76.4 792.4,71.7 794.0,72.0 C795.6,72.3 797.5,76.3 798.0,80.0 C798.5,83.7 799.1,95.3 798.0,100.0 C796.9,104.7 792.4,112.1 790.0,115.0 C787.6,117.9 782.7,120.1 780.0,122.0 C777.3,123.9 772.1,128.6 770.0,129.0 C767.9,129.4 765.5,126.7 764.0,125.0 C762.5,123.3 759.9,118.5 759.0,116.0 C758.1,113.5 756.2,108.4 757.0,106.0 Z" fill="#14dcdc" stroke="#000" stroke-width="1.05"/>
<path d="M764.0,106.0 C764.9,104.5 768.1,101.3 770.0,100.0 C771.9,98.7 776.1,97.6 778.0,96.0 C779.9,94.4 782.4,90.4 784.0,88.0 C785.6,85.6 788.5,79.1 790.0,78.0 C791.5,76.9 794.8,77.1 795.5,80.0 C796.2,82.9 796.0,96.0 795.0,100.0 C794.0,104.0 790.0,107.9 788.0,110.0 C786.0,112.1 782.1,114.7 780.0,116.0 C777.9,117.3 773.9,119.7 772.0,120.0 C770.1,120.3 767.2,119.2 766.0,118.0 C764.8,116.8 763.3,112.6 763.0,111.0 C762.7,109.4 763.1,107.5 764.0,106.0 Z" fill="#1eb4e6" stroke="#000" stroke-width="1.05"/>
<path d="M762.0,34.0 C764.4,33.3 783.5,31.6 786.0,33.0 C788.5,34.4 787.3,45.7 787.0,48.0 C786.7,50.3 783.9,55.0 783.0,56.0 C782.1,57.0 778.9,58.4 778.0,58.0 C777.1,57.6 775.2,53.0 774.0,52.0 C772.8,51.0 767.2,49.2 766.0,48.0 C764.8,46.8 762.4,41.4 762.0,40.0 C761.6,38.6 759.6,34.7 762.0,34.0 Z" fill="#aafa14" stroke="#000" stroke-width="1.05"/>
<path d="M742.0,58.0 L747.0,64.0 L754.0,68.0 L760.0,76.0 L764.0,84.0 L763.0,90.0 L752.0,94.0 L748.0,105.0 L742.0,111.0 L735.0,108.0 L727.0,100.0 L727.0,80.0 L735.0,70.0 Z" fill="#aafa14" stroke="#000" stroke-width="1.05" stroke-linejoin="round"/>
<path d="M741.5,86.0 C741.7,84.9 742.6,81.0 743.0,81.0 C743.4,81.0 744.4,84.8 744.5,86.0 C744.6,87.2 743.9,89.5 743.5,90.0 C743.1,90.5 741.8,90.0 741.5,89.5 C741.2,89.0 741.3,87.1 741.5,86.0 Z" fill="#fffa14" stroke="#000" stroke-width="1.05"/>
<path d="M752.0,132.0 L755.0,138.0 L762.0,144.0 L750.0,143.0 Z" fill="#aafa14" stroke="#000" stroke-width="1.05" stroke-linejoin="round"/>
<path d="M812.0,62.0 L818.0,60.0 L818.0,150.0 L770.0,150.0 L776.0,142.0 L784.0,134.0 L796.0,124.0 L804.0,110.0 L808.0,92.0 L811.0,76.0 Z" fill="#aafa14" stroke="#000" stroke-width="1.05" stroke-linejoin="round"/>
<path d="M814.0,82.0 L818.0,80.0 L818.0,150.0 L774.0,150.0 L778.0,144.0 L788.0,136.0 L800.0,126.0 L810.0,108.0 L812.0,92.0 Z" fill="#fffa14" stroke="#000" stroke-width="1.05" stroke-linejoin="round"/>
<path d="M815.0,104.0 L818.0,102.0 L818.0,150.0 L778.0,150.0 L782.0,144.0 L792.0,136.0 L806.0,124.0 Z" fill="#ffcd00" stroke="#000" stroke-width="1.05" stroke-linejoin="round"/>
<path d="M816.0,118.0 L818.0,116.0 L818.0,150.0 L782.0,150.0 L786.0,145.0 L796.0,138.0 L808.0,130.0 Z" fill="#ffa500" stroke="#000" stroke-width="1.05" stroke-linejoin="round"/>
<path d="M818.0,129.0 L806.0,136.0 L798.0,140.0 L788.0,146.0 L788.0,150.0 L818.0,150.0 Z" fill="#d87828" stroke="#000" stroke-width="1.05" stroke-linejoin="round"/>
<rect x="726" y="26" width="92" height="7.5" rx="0" fill="#000000"/>
<rect x="726" y="26" width="92" height="2.3999999999999986" rx="0" fill="#1464eb"/>
<rect x="726" y="29" width="92" height="1.8000000000000007" rx="0" fill="#14aaeb"/>
<rect x="726" y="31.4" width="92" height="1.6000000000000014" rx="0" fill="#14dcdc"/>
<path d="M719,149 Q719,158.5 726,158.5 H742 L748,167 H822" fill="none" stroke="#000" stroke-width="42.1" stroke-linejoin="round" stroke-linecap="round"/>
<path d="M719,149 Q719,158.5 726,158.5 H742 L748,167 H822" fill="none" stroke="#1ef5aa" stroke-width="41.0" stroke-linejoin="round" stroke-linecap="round"/>
<path d="M719,149 Q719,158.5 726,158.5 H742 L748,167 H822" fill="none" stroke="#000" stroke-width="36.975" stroke-linejoin="round" stroke-linecap="round"/>
<path d="M719,149 Q719,158.5 726,158.5 H742 L748,167 H822" fill="none" stroke="#14dcdc" stroke-width="35.875" stroke-linejoin="round" stroke-linecap="round"/>
<path d="M719,149 Q719,158.5 726,158.5 H742 L748,167 H822" fill="none" stroke="#000" stroke-width="31.85" stroke-linejoin="round" stroke-linecap="round"/>
<path d="M719,149 Q719,158.5 726,158.5 H742 L748,167 H822" fill="none" stroke="#14aaeb" stroke-width="30.75" stroke-linejoin="round" stroke-linecap="round"/>
<path d="M719,149 Q719,158.5 726,158.5 H742 L748,167 H822" fill="none" stroke="#000" stroke-width="26.725" stroke-linejoin="round" stroke-linecap="round"/>
<path d="M719,149 Q719,158.5 726,158.5 H742 L748,167 H822" fill="none" stroke="#1464eb" stroke-width="25.625" stroke-linejoin="round" stroke-linecap="round"/>
<path d="M719,149 Q719,158.5 726,158.5 H742 L748,167 H822" fill="none" stroke="#000" stroke-width="21.6" stroke-linejoin="round" stroke-linecap="round"/>
<path d="M719,149 Q719,158.5 726,158.5 H742 L748,167 H822" fill="none" stroke="#0a28eb" stroke-width="20.5" stroke-linejoin="round" stroke-linecap="round"/>
<path d="M719,149 Q719,158.5 726,158.5 H742 L748,167 H822" fill="none" stroke="#000" stroke-width="16.475" stroke-linejoin="round" stroke-linecap="round"/>
<path d="M719,149 Q719,158.5 726,158.5 H742 L748,167 H822" fill="none" stroke="#1414aa" stroke-width="15.375" stroke-linejoin="round" stroke-linecap="round"/>
<path d="M719,149 Q719,158.5 726,158.5 H742 L748,167 H822" fill="none" stroke="#000" stroke-width="11.35" stroke-linejoin="round" stroke-linecap="round"/>
<path d="M719,149 Q719,158.5 726,158.5 H742 L748,167 H822" fill="none" stroke="#14087a" stroke-width="10.25" stroke-linejoin="round" stroke-linecap="round"/>
<path d="M719,149 Q719,158.5 726,158.5 H742 L748,167 H822" fill="none" stroke="#000" stroke-width="6.225" stroke-linejoin="round" stroke-linecap="round"/>
<path d="M719,149 Q719,158.5 726,158.5 H742 L748,167 H822" fill="none" stroke="#480a7a" stroke-width="5.125" stroke-linejoin="round" stroke-linecap="round"/>
<path d="M724.0,25.0 L731.0,25.0 L731.0,54.0 L729.0,62.0 L727.0,80.0 L727.0,140.0 L723.0,150.0 L718.0,150.0 L718.0,70.0 L719.0,60.0 L724.0,56.0 Z" fill="#000000"/>
<path d="M724.0,58.0 C723.1,58.2 721.3,60.7 720.5,63.0 C719.7,65.3 719.1,69.3 719.0,72.0 C718.9,74.7 719.2,77.7 720.0,79.0 C720.8,80.3 723.1,81.5 724.0,80.0 C724.9,78.5 725.2,73.0 725.5,70.0 C725.8,67.0 726.2,64.0 726.0,62.0 C725.8,60.0 724.9,57.8 724.0,58.0 Z" fill="#480a7a"/>
<path d="M725.0,60.0 C724.6,61.3 722.8,65.0 722.5,68.0 C722.2,71.0 722.9,76.3 723.0,78.0" fill="none" stroke="#0a28eb" stroke-width="1.5"/>
<path d="M729.0,58.0 C728.7,59.7 727.5,64.7 727.0,68.0 C726.5,71.3 726.2,76.3 726.0,78.0" fill="none" stroke="#14aaeb" stroke-width="1.2"/>
<path d="M728.0,27.0 L729.0,50.0" fill="none" stroke="#1464eb" stroke-width="1.2"/>
<path d="M721.0,100.0 L721.0,135.0" fill="none" stroke="#0a1055" stroke-width="2"/>
<path d="M814.0,146.0 L814.0,168.0" fill="none" stroke="#000000" stroke-width="1.6"/>
</g>
</g></g>
<path d="M0.5,0.5 H270.5 V189.5 H0.5 Z" fill="none" stroke="#000" stroke-width="1" shape-rendering="crispEdges"/>
<text transform="translate(135.5,-6) scale(1,1.38)" text-anchor="middle" >Inverted Winds Zonal (coldside)</text>
<text transform="translate(-1.0,204) scale(1,1.38)" text-anchor="middle" >-90</text>
<text transform="translate(67.5,204) scale(1,1.38)" text-anchor="middle" >0</text>
<text transform="translate(135.5,204) scale(1,1.38)" text-anchor="middle" >90</text>
<text transform="translate(202.5,204) scale(1,1.38)" text-anchor="middle" >0</text>
<text transform="translate(269.0,204) scale(1,1.38)" text-anchor="middle" >-90</text>
<text transform="translate(134.0,217) scale(1,1.38)" text-anchor="middle" >Lat (deg)</text>
<text transform="translate(-4,189) scale(1,1.38)" text-anchor="end" >60</text>
<text transform="translate(-4,162) scale(1,1.38)" text-anchor="end" >70</text>
<text transform="translate(-4,130) scale(1,1.38)" text-anchor="end" >80</text>
<text transform="translate(-4,99) scale(1,1.38)" text-anchor="end" >90</text>
<text transform="translate(-4,68) scale(1,1.38)" text-anchor="end" >100</text>
<text transform="translate(-4,36) scale(1,1.38)" text-anchor="end" >110</text>
<text transform="translate(-4,7) scale(1,1.38)" text-anchor="end" >120</text>
<text transform="translate(-30,29.0) scale(1,1.22)" text-anchor="middle">A</text>
<text transform="translate(-30,38.8) scale(1,1.22)" text-anchor="middle">l</text>
<text transform="translate(-30,48.6) scale(1,1.22)" text-anchor="middle">t</text>
<text transform="translate(-30,58.4) scale(1,1.22)" text-anchor="middle">i</text>
<text transform="translate(-30,68.2) scale(1,1.22)" text-anchor="middle">t</text>
<text transform="translate(-30,78.0) scale(1,1.22)" text-anchor="middle">u</text>
<text transform="translate(-30,87.8) scale(1,1.22)" text-anchor="middle">d</text>
<text transform="translate(-30,97.6) scale(1,1.22)" text-anchor="middle">e</text>
<text transform="translate(-30,117.2) scale(1,1.22)" text-anchor="middle">(</text>
<text transform="translate(-30,127.0) scale(1,1.22)" text-anchor="middle">k</text>
<text transform="translate(-30,136.8) scale(1,1.22)" text-anchor="middle">m</text>
<text transform="translate(-30,146.6) scale(1,1.22)" text-anchor="middle">)</text>
<rect x="298" y="1.00" width="29" height="9.90" fill="#ff5af0" shape-rendering="crispEdges"/>
<rect x="298" y="10.40" width="29" height="9.90" fill="#ff37aa" shape-rendering="crispEdges"/>
<rect x="298" y="19.80" width="29" height="9.90" fill="#f5055f" shape-rendering="crispEdges"/>
<rect x="298" y="29.20" width="29" height="9.90" fill="#d8285f" shape-rendering="crispEdges"/>
<rect x="298" y="38.60" width="29" height="9.90" fill="#c04848" shape-rendering="crispEdges"/>
<rect x="298" y="48.00" width="29" height="9.90" fill="#d87828" shape-rendering="crispEdges"/>
<rect x="298" y="57.40" width="29" height="9.90" fill="#ffa500" shape-rendering="crispEdges"/>
<rect x="298" y="66.80" width="29" height="9.90" fill="#ffcd00" shape-rendering="crispEdges"/>
<rect x="298" y="76.20" width="29" height="9.90" fill="#fffa00" shape-rendering="crispEdges"/>
<rect x="298" y="85.60" width="29" height="9.90" fill="#b9fa14" shape-rendering="crispEdges"/>
<rect x="298" y="95.00" width="29" height="9.90" fill="#8cf028" shape-rendering="crispEdges"/>
<rect x="298" y="104.40" width="29" height="9.90" fill="#5af050" shape-rendering="crispEdges"/>
<rect x="298" y="113.80" width="29" height="9.90" fill="#1ef58c" shape-rendering="crispEdges"/>
<rect x="298" y="123.20" width="29" height="9.90" fill="#14dcb9" shape-rendering="crispEdges"/>
<rect x="298" y="132.60" width="29" height="9.90" fill="#14bee1" shape-rendering="crispEdges"/>
<rect x="298" y="142.00" width="29" height="9.90" fill="#146ee6" shape-rendering="crispEdges"/>
<rect x="298" y="151.40" width="29" height="9.90" fill="#0a2deb" shape-rendering="crispEdges"/>
<rect x="298" y="160.80" width="29" height="9.90" fill="#1414aa" shape-rendering="crispEdges"/>
<rect x="298" y="170.20" width="29" height="9.90" fill="#5a0a82" shape-rendering="crispEdges"/>
<rect x="298" y="179.60" width="29" height="9.90" fill="#2d0a46" shape-rendering="crispEdges"/>
<path d="M298.5,0.5 h28 v189 h-28 Z" fill="none" stroke="#000" shape-rendering="crispEdges"/>
<text transform="translate(367.5,3) scale(1,1.38)" text-anchor="end" >200.0</text>
<text transform="translate(367.5,26) scale(1,1.38)" text-anchor="end" >150.0</text>
<text transform="translate(367.5,50) scale(1,1.38)" text-anchor="end" >100.0</text>
<text transform="translate(367.5,74) scale(1,1.38)" text-anchor="end" >50.0</text>
<text transform="translate(367.5,97) scale(1,1.38)" text-anchor="end" >0.0</text>
<text transform="translate(367.5,120) scale(1,1.38)" text-anchor="end" >-50.0</text>
<text transform="translate(367.5,144) scale(1,1.38)" text-anchor="end" >-100.0</text>
<text transform="translate(367.5,168) scale(1,1.38)" text-anchor="end" >-150.0</text>
<text transform="translate(367.5,191) scale(1,1.38)" text-anchor="end" >-200.0</text>
<path d="M326.5,24.5 h-7 M326.5,48.5 h-7 M326.5,72.5 h-7 M326.5,95.5 h-7 M326.5,118.5 h-7 M326.5,142.5 h-7 M326.5,166.5 h-7" stroke="#000" stroke-width="1" fill="none" shape-rendering="crispEdges"/>
</g>
<g transform="translate(67,296)">
<path d="M0.5,189.5 h6 M270.5,189.5 h-6 M0.5,186.5 h3 M270.5,186.5 h-3 M0.5,183.5 h3 M270.5,183.5 h-3 M0.5,180.5 h3 M270.5,180.5 h-3 M0.5,176.5 h3 M270.5,176.5 h-3 M0.5,173.5 h3 M270.5,173.5 h-3 M0.5,170.5 h3 M270.5,170.5 h-3 M0.5,167.5 h3 M270.5,167.5 h-3 M0.5,164.5 h3 M270.5,164.5 h-3 M0.5,161.5 h3 M270.5,161.5 h-3 M0.5,158.5 h6 M270.5,158.5 h-6 M0.5,154.5 h3 M270.5,154.5 h-3 M0.5,151.5 h3 M270.5,151.5 h-3 M0.5,148.5 h3 M270.5,148.5 h-3 M0.5,145.5 h3 M270.5,145.5 h-3 M0.5,142.5 h3 M270.5,142.5 h-3 M0.5,139.5 h3 M270.5,139.5 h-3 M0.5,135.5 h3 M270.5,135.5 h-3 M0.5,132.5 h3 M270.5,132.5 h-3 M0.5,129.5 h3 M270.5,129.5 h-3 M0.5,126.5 h6 M270.5,126.5 h-6 M0.5,123.5 h3 M270.5,123.5 h-3 M0.5,120.5 h3 M270.5,120.5 h-3 M0.5,117.5 h3 M270.5,117.5 h-3 M0.5,113.5 h3 M270.5,113.5 h-3 M0.5,110.5 h3 M270.5,110.5 h-3 M0.5,107.5 h3 M270.5,107.5 h-3 M0.5,104.5 h3 M270.5,104.5 h-3 M0.5,101.5 h3 M270.5,101.5 h-3 M0.5,98.5 h3 M270.5,98.5 h-3 M0.5,94.5 h6 M270.5,94.5 h-6 M0.5,91.5 h3 M270.5,91.5 h-3 M0.5,88.5 h3 M270.5,88.5 h-3 M0.5,85.5 h3 M270.5,85.5 h-3 M0.5,82.5 h3 M270.5,82.5 h-3 M0.5,79.5 h3 M270.5,79.5 h-3 M0.5,76.5 h3 M270.5,76.5 h-3 M0.5,72.5 h3 M270.5,72.5 h-3 M0.5,69.5 h3 M270.5,69.5 h-3 M0.5,66.5 h3 M270.5,66.5 h-3 M0.5,63.5 h6 M270.5,63.5 h-6 M0.5,60.5 h3 M270.5,60.5 h-3 M0.5,57.5 h3 M270.5,57.5 h-3 M0.5,54.5 h3 M270.5,54.5 h-3 M0.5,50.5 h3 M270.5,50.5 h-3 M0.5,47.5 h3 M270.5,47.5 h-3 M0.5,44.5 h3 M270.5,44.5 h-3 M0.5,41.5 h3 M270.5,41.5 h-3 M0.5,38.5 h3 M270.5,38.5 h-3 M0.5,35.5 h3 M270.5,35.5 h-3 M0.5,32.5 h6 M270.5,32.5 h-6 M0.5,28.5 h3 M270.5,28.5 h-3 M0.5,25.5 h3 M270.5,25.5 h-3 M0.5,22.5 h3 M270.5,22.5 h-3 M0.5,19.5 h3 M270.5,19.5 h-3 M0.5,16.5 h3 M270.5,16.5 h-3 M0.5,13.5 h3 M270.5,13.5 h-3 M0.5,9.5 h3 M270.5,9.5 h-3 M0.5,6.5 h3 M270.5,6.5 h-3 M0.5,3.5 h3 M270.5,3.5 h-3 M0.5,0.5 h6 M270.5,0.5 h-6 M67.5,0.5 v5 M67.5,189.5 v-5 M135.5,0.5 v5 M135.5,189.5 v-5 M202.5,0.5 v5 M202.5,189.5 v-5" stroke="#000" stroke-width="1" fill="none" shape-rendering="crispEdges"/>
<g clip-path="url(#cp)"><g transform="translate(-67,-296)">
<clipPath id="b7"><path d="M91,295 H101 V300 H102.3 V379 H101 V425 L98.5,436.5 H93 L91,432 Z"/></clipPath>
<g clip-path="url(#b7)">
<path d="M91,295 H101 V300 H102.3 V379 H101 V425 L98.5,436.5 H93 L91,432 Z" fill="#000000"/>
<path d="M91.0,301.0 C91.2,297.2 93.2,300.9 93.5,302.0 C93.8,303.1 93.8,310.0 93.8,312.0 C93.8,314.0 93.2,319.2 93.0,322.0 C92.8,324.8 92.5,338.2 92.3,340.0 C92.1,341.8 91.1,343.9 91.0,340.0 C90.9,336.1 90.8,304.8 91.0,301.0 Z" fill="#d8285f"/>
<path d="M91.0,340.0 C91.1,338.9 92.2,338.9 92.3,340.0 C92.4,341.1 92.9,354.9 92.8,356.0 C92.7,357.1 91.1,357.1 91.0,356.0 C90.9,354.9 90.9,341.1 91.0,340.0 Z" fill="#ffa500"/>
<path d="M91.0,356.0 C91.1,355.3 92.7,355.3 92.8,356.0 C92.9,356.7 92.9,365.3 92.8,366.0 C92.7,366.7 91.1,366.7 91.0,366.0 C90.9,365.3 90.9,356.7 91.0,356.0 Z" fill="#ffcd00"/>
<path d="M91.0,365.0 C91.2,363.2 92.5,365.3 93.0,366.0 C93.5,366.7 95.3,370.5 95.5,372.0 C95.7,373.5 95.2,379.8 95.0,381.0 C94.8,382.2 93.4,383.7 93.0,384.0 C92.6,384.3 91.2,385.9 91.0,384.0 C90.8,382.1 90.8,366.8 91.0,365.0 Z" fill="#fffa14"/>
<path d="M91.0,384.0 C91.1,382.9 92.4,382.9 92.5,384.0 C92.6,385.1 92.9,398.9 92.8,400.0 C92.7,401.1 91.1,401.1 91.0,400.0 C90.9,398.9 90.9,385.1 91.0,384.0 Z" fill="#aafa14"/>
<path d="M91.0,399.0 C91.4,397.0 93.4,399.9 94.0,401.0 C94.6,402.1 95.7,405.4 95.8,407.0 C95.9,408.6 95.1,411.8 94.5,413.0 C93.9,414.2 91.5,417.9 91.0,416.0 C90.5,414.1 90.6,401.0 91.0,399.0 Z" fill="#5afa64"/>
<path d="M91.0,418.0 C91.5,416.3 95.2,419.0 96.0,420.0 C96.8,421.0 98.8,426.3 99.0,428.0 C99.2,429.7 99.3,436.1 98.5,437.0 C97.7,437.9 91.8,438.9 91.0,437.0 C90.2,435.1 90.5,419.7 91.0,418.0 Z" fill="#1414aa"/>
<path d="M91.0,430.0 C91.6,429.5 99.5,429.5 100.0,430.0 C100.5,430.5 99.6,437.5 99.0,438.0 C98.4,438.5 91.5,438.5 91.0,438.0 C90.5,437.5 90.4,430.5 91.0,430.0 Z" fill="#480a7a"/>
<path d="M93.5,417.0 C93.8,418.2 94.8,421.8 95.0,424.0 C95.2,426.2 94.6,429.0 94.5,430.0" fill="none" stroke="#1464eb" stroke-width="1.5"/>
</g>
<clipPath id="b8"><path d="M144,335.5 Q144,328.7 151,328.7 H185 Q191.7,328.7 191.7,335.5 V418 L186.5,431 L181,437.3 H151 Q144,437.3 144,430 Z"/></clipPath>
<g clip-path="url(#b8)">
<path d="M144,335.5 Q144,328.7 151,328.7 H185 Q191.7,328.7 191.7,335.5 V418 L186.5,431 L181,437.3 H151 Q144,437.3 144,430 Z" fill="#2d0a46"/>
<rect x="144.8" y="329.6" width="46.19999999999999" height="106.79999999999995" rx="6" fill="#3e0a70"/>
<rect x="145.8" y="332.3" width="44.69999999999999" height="102.19999999999999" rx="6" fill="#1414aa" stroke="#000" stroke-width="0.8"/>
<rect x="147.2" y="335.2" width="42.30000000000001" height="96.30000000000001" rx="5" fill="#0a28eb" stroke="#000" stroke-width="0.8"/>
<rect x="148.6" y="338" width="39.900000000000006" height="90.5" rx="5" fill="#1464eb" stroke="#000" stroke-width="0.8"/>
<rect x="150" y="340.8" width="37.5" height="84.19999999999999" rx="4" fill="#14aaeb" stroke="#000" stroke-width="0.8"/>
<rect x="151.2" y="343.3" width="35.30000000000001" height="78.19999999999999" rx="4" fill="#14dcdc" stroke="#000" stroke-width="0.8"/>
<rect x="152.2" y="345.6" width="33.30000000000001" height="72.89999999999998" rx="3" fill="#1ef5aa" stroke="#000" stroke-width="0.8"/>
<rect x="153" y="347.8" width="31.5" height="68.19999999999999" rx="3" fill="#5afa64" stroke="#000" stroke-width="0.8"/>
<rect x="153.5" y="349.5" width="30.5" height="65.5" rx="1" fill="#5afa64"/>
<path d="M183.8,346.0 L192.0,340.0 L192.0,400.0 L191.5,420.0 L187.0,431.0 L184.5,418.0 L183.8,400.0 Z" fill="#000000" stroke="#000" stroke-width="1.05" stroke-linejoin="round"/>
<path d="M143.5,350.0 L152.8,352.0 L152.8,420.0 L147.0,428.0 L143.5,428.0 Z" fill="#000000" stroke="#000" stroke-width="1.05" stroke-linejoin="round"/>
<path d="M148.0,352.0 C147.9,360.0 147.3,388.7 147.5,400.0 C147.7,411.3 148.8,416.7 149.0,420.0" fill="none" stroke="#1464eb" stroke-width="1"/>
<path d="M150.5,352.0 L150.5,410.0" fill="none" stroke="#14aaeb" stroke-width="1"/>
<path d="M186.5,352.0 C186.5,360.8 186.8,393.7 186.5,405.0 C186.2,416.3 185.2,417.5 185.0,420.0" fill="none" stroke="#1464eb" stroke-width="1"/>
<path d="M189.0,350.0 C189.0,359.2 189.3,392.7 189.0,405.0 C188.7,417.3 187.3,420.8 187.0,424.0" fill="none" stroke="#1414aa" stroke-width="1.5"/>
<path d="M155.0,350.0 L177.0,350.0 L178.0,362.0 L182.0,375.0 L184.0,383.0 L180.0,382.0 L176.0,376.0 L172.0,368.0 L168.0,366.0 L164.0,368.0 L162.0,373.0 L158.0,365.0 L155.5,354.0 Z" fill="#aafa14" stroke="#000" stroke-width="1.05" stroke-linejoin="round"/>
<path d="M177.5,351.0 L184.0,351.0 L184.0,376.0 L182.0,372.0 L179.0,362.0 Z" fill="#fffa14" stroke="#000" stroke-width="1.05" stroke-linejoin="round"/>
<path d="M156.0,388.0 L160.0,386.0 L165.0,390.0 L167.0,400.0 L169.0,406.0 L172.0,404.0 L174.0,396.0 L178.0,393.0 L184.0,392.0 L184.0,415.0 L168.0,415.0 L163.0,410.0 L158.0,410.0 L156.0,400.0 Z" fill="#1ef5aa" stroke="#000" stroke-width="1.05" stroke-linejoin="round"/>
</g>
<clipPath id="b9"><path d="M236,295 V326 Q230,330 229.5,340 V424 Q229.5,430 236,430 H241 L243,434 H251 L253,429.5 H278 L283,437 H312.5 V295 Z"/></clipPath>
<g clip-path="url(#b9)">
<path d="M236,295 V326 Q230,330 229.5,340 V424 Q229.5,430 236,430 H241 L243,434 H251 L253,429.5 H278 L283,437 H312.5 V295 Z" fill="#5afa64"/>
<path d="M245.0,297.0 L300.0,297.0 L298.0,310.0 L292.0,322.0 L284.0,327.0 L274.0,325.0 L266.0,318.0 L262.0,308.0 L256.0,304.0 L248.0,306.0 L245.0,310.0 Z" fill="#1ef5aa" stroke="#000" stroke-width="1.05" stroke-linejoin="round"/>
<path d="M264.0,297.0 L294.0,297.0 L292.0,308.0 L288.0,318.0 L282.0,322.0 L275.0,320.0 L269.0,312.0 L266.0,304.0 Z" fill="#14dcdc" stroke="#000" stroke-width="1.05" stroke-linejoin="round"/>
<path d="M267.0,297.0 L291.0,297.0 L289.0,306.0 L285.0,316.0 L281.0,311.0 L277.0,315.0 L272.0,309.0 L269.0,302.0 Z" fill="#14aaeb" stroke="#000" stroke-width="1.05" stroke-linejoin="round"/>
<path d="M270.0,297.0 C272.1,296.1 285.9,296.1 288.0,297.0 C290.1,297.9 287.2,302.7 286.0,304.0 C284.8,305.3 280.9,307.0 279.0,307.0 C277.1,307.0 273.2,305.3 272.0,304.0 C270.8,302.7 267.9,297.9 270.0,297.0 Z" fill="#1464eb" stroke="#000" stroke-width="1.05"/>
<path d="M248.0,306.0 L256.0,304.0 L262.0,308.0 L265.0,318.0 L262.0,325.0 L256.0,330.0 L252.0,338.0 L246.0,340.0 L245.0,322.0 Z" fill="#aafa14" stroke="#000" stroke-width="1.05" stroke-linejoin="round"/>
<path d="M246.0,322.0 C246.5,319.6 248.7,319.2 249.5,320.0 C250.3,320.8 251.9,325.7 252.0,328.0 C252.1,330.3 251.3,335.7 250.5,337.0 C249.7,338.3 246.6,340.0 246.0,338.0 C245.4,336.0 245.5,324.4 246.0,322.0 Z" fill="#fffa14" stroke="#000" stroke-width="1.05"/>
<path d="M259.5,305.0 C259.7,304.1 261.2,303.7 261.5,304.5 C261.8,305.3 262.2,310.1 262.0,311.0 C261.8,311.9 260.3,312.3 260.0,311.5 C259.7,310.7 259.3,305.9 259.5,305.0 Z" fill="#fffa14" stroke="#000" stroke-width="1.05"/>
<path d="M262.0,330.0 C262.8,327.9 267.2,326.4 270.0,326.0 C272.8,325.6 279.8,327.0 283.0,327.0 C286.2,327.0 291.9,327.5 294.0,326.0 C296.1,324.5 298.2,319.5 299.0,316.0 C299.8,312.5 299.5,302.1 300.0,300.0 C300.5,297.9 302.6,296.0 303.0,300.0 C303.4,304.0 303.4,324.0 303.0,330.0 C302.6,336.0 300.7,341.0 300.0,345.0 C299.3,349.0 299.3,357.2 298.0,360.0 C296.7,362.8 292.4,364.7 290.0,366.0 C287.6,367.3 282.7,370.0 280.0,370.0 C277.3,370.0 272.9,367.1 270.0,366.0 C267.1,364.9 259.3,363.9 258.0,362.0 C256.7,360.1 259.2,354.7 260.0,352.0 C260.8,349.3 263.7,344.9 264.0,342.0 C264.3,339.1 261.2,332.1 262.0,330.0 Z" fill="none" stroke="#000" stroke-width="1.8" stroke-linejoin="round"/>
<path d="M256.0,360.0 C258.7,358.7 266.3,355.5 270.0,356.0 C273.7,356.5 282.9,361.3 284.0,364.0 C285.1,366.7 279.3,373.1 278.0,376.0 C276.7,378.9 275.1,383.9 274.0,386.0 C272.9,388.1 271.6,390.4 270.0,392.0 C268.4,393.6 264.7,396.7 262.0,398.0 C259.3,399.3 252.9,402.4 250.0,402.0 C247.1,401.6 241.3,397.9 240.0,395.0 C238.7,392.1 239.5,383.1 240.0,380.0 C240.5,376.9 242.7,373.9 244.0,372.0 C245.3,370.1 248.4,367.6 250.0,366.0 C251.6,364.4 253.3,361.3 256.0,360.0 Z" fill="none" stroke="#000" stroke-width="1.8" stroke-linejoin="round"/>
<path d="M262.0,330.0 C262.8,327.9 267.2,326.4 270.0,326.0 C272.8,325.6 279.8,327.0 283.0,327.0 C286.2,327.0 291.9,327.5 294.0,326.0 C296.1,324.5 298.2,319.5 299.0,316.0 C299.8,312.5 299.5,302.1 300.0,300.0 C300.5,297.9 302.6,296.0 303.0,300.0 C303.4,304.0 303.4,324.0 303.0,330.0 C302.6,336.0 300.7,341.0 300.0,345.0 C299.3,349.0 299.3,357.2 298.0,360.0 C296.7,362.8 292.4,364.7 290.0,366.0 C287.6,367.3 282.7,370.0 280.0,370.0 C277.3,370.0 272.9,367.1 270.0,366.0 C267.1,364.9 259.3,363.9 258.0,362.0 C256.7,360.1 259.2,354.7 260.0,352.0 C260.8,349.3 263.7,344.9 264.0,342.0 C264.3,339.1 261.2,332.1 262.0,330.0 Z" fill="#aafa14"/>
<path d="M256.0,360.0 C258.7,358.7 266.3,355.5 270.0,356.0 C273.7,356.5 282.9,361.3 284.0,364.0 C285.1,366.7 279.3,373.1 278.0,376.0 C276.7,378.9 275.1,383.9 274.0,386.0 C272.9,388.1 271.6,390.4 270.0,392.0 C268.4,393.6 264.7,396.7 262.0,398.0 C259.3,399.3 252.9,402.4 250.0,402.0 C247.1,401.6 241.3,397.9 240.0,395.0 C238.7,392.1 239.5,383.1 240.0,380.0 C240.5,376.9 242.7,373.9 244.0,372.0 C245.3,370.1 248.4,367.6 250.0,366.0 C251.6,364.4 253.3,361.3 256.0,360.0 Z" fill="#aafa14"/>
<path d="M268.0,336.0 C268.8,333.9 271.9,330.8 274.0,330.0 C276.1,329.2 281.5,329.6 284.0,330.0 C286.5,330.4 291.3,333.8 293.0,333.0 C294.7,332.2 296.2,327.1 297.0,324.0 C297.8,320.9 298.5,311.9 299.0,310.0 C299.5,308.1 300.9,306.0 301.0,310.0 C301.1,314.0 300.7,333.9 300.0,340.0 C299.3,346.1 297.6,353.1 296.0,356.0 C294.4,358.9 290.4,360.8 288.0,362.0 C285.6,363.2 280.4,365.0 278.0,365.0 C275.6,365.0 271.9,362.9 270.0,362.0 C268.1,361.1 264.3,360.1 264.0,358.0 C263.7,355.9 267.5,348.9 268.0,346.0 C268.5,343.1 267.2,338.1 268.0,336.0 Z" fill="none" stroke="#000" stroke-width="1.8" stroke-linejoin="round"/>
<path d="M262.0,358.0 C264.3,356.1 269.7,355.5 272.0,356.0 C274.3,356.5 279.0,359.5 279.0,362.0 C279.0,364.5 273.5,371.9 272.0,375.0 C270.5,378.1 269.9,383.0 268.0,385.0 C266.1,387.0 260.4,388.8 258.0,390.0 C255.6,391.2 251.6,394.3 250.0,394.0 C248.4,393.7 246.4,390.1 246.0,388.0 C245.6,385.9 245.8,380.4 247.0,378.0 C248.2,375.6 253.0,372.7 255.0,370.0 C257.0,367.3 259.7,359.9 262.0,358.0 Z" fill="none" stroke="#000" stroke-width="1.8" stroke-linejoin="round"/>
<path d="M268.0,336.0 C268.8,333.9 271.9,330.8 274.0,330.0 C276.1,329.2 281.5,329.6 284.0,330.0 C286.5,330.4 291.3,333.8 293.0,333.0 C294.7,332.2 296.2,327.1 297.0,324.0 C297.8,320.9 298.5,311.9 299.0,310.0 C299.5,308.1 300.9,306.0 301.0,310.0 C301.1,314.0 300.7,333.9 300.0,340.0 C299.3,346.1 297.6,353.1 296.0,356.0 C294.4,358.9 290.4,360.8 288.0,362.0 C285.6,363.2 280.4,365.0 278.0,365.0 C275.6,365.0 271.9,362.9 270.0,362.0 C268.1,361.1 264.3,360.1 264.0,358.0 C263.7,355.9 267.5,348.9 268.0,346.0 C268.5,343.1 267.2,338.1 268.0,336.0 Z" fill="#fffa14"/>
<path d="M262.0,358.0 C264.3,356.1 269.7,355.5 272.0,356.0 C274.3,356.5 279.0,359.5 279.0,362.0 C279.0,364.5 273.5,371.9 272.0,375.0 C270.5,378.1 269.9,383.0 268.0,385.0 C266.1,387.0 260.4,388.8 258.0,390.0 C255.6,391.2 251.6,394.3 250.0,394.0 C248.4,393.7 246.4,390.1 246.0,388.0 C245.6,385.9 245.8,380.4 247.0,378.0 C248.2,375.6 253.0,372.7 255.0,370.0 C257.0,367.3 259.7,359.9 262.0,358.0 Z" fill="#fffa14"/>
<path d="M271.0,340.0 C271.7,337.4 272.8,335.5 275.0,334.5 C277.2,333.5 281.3,333.4 284.0,334.0 C286.7,334.6 289.5,336.0 291.0,338.0 C292.5,340.0 293.0,343.2 293.0,346.0 C293.0,348.8 292.7,352.9 291.0,355.0 C289.3,357.1 285.7,358.1 283.0,358.5 C280.3,358.9 277.0,358.9 275.0,357.5 C273.0,356.1 271.7,352.9 271.0,350.0 C270.3,347.1 270.3,342.6 271.0,340.0 Z" fill="#ffcd00" stroke="#000" stroke-width="1.05"/>
<path d="M273.5,342.0 C274.1,340.1 275.2,338.3 277.0,337.5 C278.8,336.7 281.9,336.4 284.0,337.0 C286.1,337.6 288.3,339.3 289.5,341.0 C290.7,342.7 291.1,345.0 291.0,347.0 C290.9,349.0 290.3,351.6 289.0,353.0 C287.7,354.4 285.1,355.2 283.0,355.5 C280.9,355.8 278.1,355.6 276.5,354.5 C274.9,353.4 274.0,351.1 273.5,349.0 C273.0,346.9 272.9,343.9 273.5,342.0 Z" fill="#ffa500" stroke="#000" stroke-width="1.05"/>
<path d="M275.5,343.0 C275.9,341.6 276.6,340.1 278.0,339.5 C279.4,338.9 282.3,338.9 284.0,339.5 C285.7,340.1 287.2,341.6 288.0,343.0 C288.8,344.4 288.7,346.5 288.5,348.0 C288.3,349.5 288.0,351.1 287.0,352.0 C286.0,352.9 284.0,353.4 282.5,353.5 C281.0,353.6 279.2,353.4 278.0,352.5 C276.8,351.6 275.9,349.6 275.5,348.0 C275.1,346.4 275.1,344.4 275.5,343.0 Z" fill="#e68c28" stroke="#000" stroke-width="1.05"/>
<path d="M279.0,343.5 C279.1,343.2 282.4,343.2 282.5,343.5 C282.6,343.8 281.2,347.5 281.0,347.5 C280.8,347.5 278.9,343.8 279.0,343.5 Z" fill="#c04848" stroke="#000" stroke-width="1.05"/>
<path d="M299.0,297.0 L313.0,297.0 L313.0,362.0 L309.0,362.0 L303.0,345.0 L300.0,330.0 Z" fill="#ffcd00"/>
<path d="M301.0,297.0 L313.0,297.0 L313.0,362.0 L310.0,362.0 L305.0,345.0 L302.5,330.0 Z" fill="#ffa500"/>
<path d="M304.5,297.0 L313.0,297.0 L313.0,360.0 L311.0,360.0 L307.5,345.0 L305.5,330.0 Z" fill="#d87828"/>
<path d="M307.5,297.0 L313.0,297.0 L313.0,356.0 L312.0,356.0 L309.5,340.0 Z" fill="#d8285f"/>
<path d="M310.0,297.0 L313.0,297.0 L313.0,420.0 L311.5,420.0 L311.0,350.0 Z" fill="#000000"/>
<path d="M299.0,300.0 C299.2,305.0 299.3,322.5 300.0,330.0 C300.7,337.5 301.7,339.7 303.0,345.0 C304.3,350.3 307.2,359.2 308.0,362.0" fill="none" stroke="#000000" stroke-width="0.9"/>
<path d="M301.0,300.0 C301.2,305.0 301.8,322.5 302.5,330.0 C303.2,337.5 303.8,339.7 305.0,345.0 C306.2,350.3 308.8,359.2 309.5,362.0" fill="none" stroke="#000000" stroke-width="0.9"/>
<path d="M304.5,300.0 C304.7,305.0 305.0,322.5 305.5,330.0 C306.0,337.5 306.7,340.0 307.5,345.0 C308.3,350.0 310.0,357.5 310.5,360.0" fill="none" stroke="#000000" stroke-width="0.9"/>
<path d="M307.5,300.0 C307.8,306.7 308.8,330.7 309.5,340.0 C310.2,349.3 311.2,353.3 311.5,356.0" fill="none" stroke="#000000" stroke-width="0.9"/>
<path d="M246.0,344.0 L252.0,340.0 L262.0,334.0 L265.0,342.0 L260.0,350.0 L254.0,356.0 L250.0,366.0 L244.0,370.0 L240.0,366.0 L240.0,350.0 Z" fill="#1ef5aa" stroke="#000" stroke-width="1.05" stroke-linejoin="round"/>
<path d="M243.5,355.0 C244.2,353.8 245.9,352.3 247.0,352.5 C248.1,352.7 249.7,354.6 250.0,356.0 C250.3,357.4 249.8,359.8 249.0,361.0 C248.2,362.2 246.0,363.2 245.0,363.0 C244.0,362.8 243.2,361.3 243.0,360.0 C242.8,358.7 242.8,356.2 243.5,355.0 Z" fill="#14dcdc" stroke="#000" stroke-width="1.05"/>
<path d="M260.0,374.0 C260.1,373.4 262.1,371.4 262.5,371.5 C262.9,371.6 263.6,374.4 263.5,375.0 C263.4,375.6 261.4,377.1 261.0,377.0 C260.6,376.9 259.9,374.6 260.0,374.0 Z" fill="#ffcd00" stroke="#000" stroke-width="1.05"/>
<path d="M278.0,372.0 C278.6,371.0 281.8,367.8 283.0,368.0 C284.2,368.2 289.5,372.8 290.0,374.0 C290.5,375.2 288.8,379.2 288.0,380.0 C287.2,380.8 283.1,382.2 282.0,382.0 C280.9,381.8 277.4,379.0 277.0,378.0 C276.6,377.0 277.4,373.0 278.0,372.0 Z" fill="#1ef5aa" stroke="#000" stroke-width="1.05"/>
<path d="M302.0,373.0 C302.2,371.8 303.6,369.5 304.0,370.0 C304.4,370.5 306.0,376.5 306.0,378.0 C306.0,379.5 304.4,384.6 304.0,385.0 C303.6,385.4 302.2,383.2 302.0,382.0 C301.8,380.8 301.8,374.2 302.0,373.0 Z" fill="#1ef5aa" stroke="#000" stroke-width="1.05"/>
<path d="M272.0,390.0 C274.0,388.8 281.7,387.0 285.0,387.0 C288.3,387.0 294.3,388.3 297.0,390.0 C299.7,391.7 303.5,397.1 305.0,400.0 C306.5,402.9 308.7,410.1 308.0,412.0 C307.3,413.9 302.4,414.3 300.0,414.0 C297.6,413.7 292.7,410.8 290.0,410.0 C287.3,409.2 282.4,408.7 280.0,408.0 C277.6,407.3 273.3,406.6 272.0,405.0 C270.7,403.4 270.0,398.0 270.0,396.0 C270.0,394.0 270.0,391.2 272.0,390.0 Z" fill="#aafa14" stroke="#000" stroke-width="1.05"/>
<path d="M275.0,400.0 C275.6,398.7 280.7,394.0 282.0,394.0 C283.3,394.0 287.8,398.8 288.0,400.0 C288.2,401.2 285.2,405.3 284.0,406.0 C282.8,406.7 276.9,407.6 276.0,407.0 C275.1,406.4 274.4,401.3 275.0,400.0 Z" fill="#fffa14" stroke="#000" stroke-width="1.05"/>
<path d="M230,423 Q229.5,430 236,430 H241 L243,434 H251 L253,429.5 H278 L283,437 H316" fill="none" stroke="#000" stroke-width="43.1" stroke-linejoin="round" stroke-linecap="round"/>
<path d="M230,423 Q229.5,430 236,430 H241 L243,434 H251 L253,429.5 H278 L283,437 H316" fill="none" stroke="#1ef5aa" stroke-width="42.0" stroke-linejoin="round" stroke-linecap="round"/>
<path d="M230,423 Q229.5,430 236,430 H241 L243,434 H251 L253,429.5 H278 L283,437 H316" fill="none" stroke="#000" stroke-width="37.85" stroke-linejoin="round" stroke-linecap="round"/>
<path d="M230,423 Q229.5,430 236,430 H241 L243,434 H251 L253,429.5 H278 L283,437 H316" fill="none" stroke="#14dcdc" stroke-width="36.75" stroke-linejoin="round" stroke-linecap="round"/>
<path d="M230,423 Q229.5,430 236,430 H241 L243,434 H251 L253,429.5 H278 L283,437 H316" fill="none" stroke="#000" stroke-width="32.6" stroke-linejoin="round" stroke-linecap="round"/>
<path d="M230,423 Q229.5,430 236,430 H241 L243,434 H251 L253,429.5 H278 L283,437 H316" fill="none" stroke="#14aaeb" stroke-width="31.5" stroke-linejoin="round" stroke-linecap="round"/>
<path d="M230,423 Q229.5,430 236,430 H241 L243,434 H251 L253,429.5 H278 L283,437 H316" fill="none" stroke="#000" stroke-width="27.35" stroke-linejoin="round" stroke-linecap="round"/>
<path d="M230,423 Q229.5,430 236,430 H241 L243,434 H251 L253,429.5 H278 L283,437 H316" fill="none" stroke="#1464eb" stroke-width="26.25" stroke-linejoin="round" stroke-linecap="round"/>
<path d="M230,423 Q229.5,430 236,430 H241 L243,434 H251 L253,429.5 H278 L283,437 H316" fill="none" stroke="#000" stroke-width="22.1" stroke-linejoin="round" stroke-linecap="round"/>
<path d="M230,423 Q229.5,430 236,430 H241 L243,434 H251 L253,429.5 H278 L283,437 H316" fill="none" stroke="#0a28eb" stroke-width="21.0" stroke-linejoin="round" stroke-linecap="round"/>
<path d="M230,423 Q229.5,430 236,430 H241 L243,434 H251 L253,429.5 H278 L283,437 H316" fill="none" stroke="#000" stroke-width="16.85" stroke-linejoin="round" stroke-linecap="round"/>
<path d="M230,423 Q229.5,430 236,430 H241 L243,434 H251 L253,429.5 H278 L283,437 H316" fill="none" stroke="#1414aa" stroke-width="15.75" stroke-linejoin="round" stroke-linecap="round"/>
<path d="M230,423 Q229.5,430 236,430 H241 L243,434 H251 L253,429.5 H278 L283,437 H316" fill="none" stroke="#000" stroke-width="11.6" stroke-linejoin="round" stroke-linecap="round"/>
<path d="M230,423 Q229.5,430 236,430 H241 L243,434 H251 L253,429.5 H278 L283,437 H316" fill="none" stroke="#14087a" stroke-width="10.5" stroke-linejoin="round" stroke-linecap="round"/>
<path d="M230,423 Q229.5,430 236,430 H241 L243,434 H251 L253,429.5 H278 L283,437 H316" fill="none" stroke="#000" stroke-width="6.35" stroke-linejoin="round" stroke-linecap="round"/>
<path d="M230,423 Q229.5,430 236,430 H241 L243,434 H251 L253,429.5 H278 L283,437 H316" fill="none" stroke="#480a7a" stroke-width="5.25" stroke-linejoin="round" stroke-linecap="round"/>
<path d="M236.0,295.0 L245.0,295.0 L245.0,324.0 L242.0,334.0 L239.0,345.0 L238.0,415.0 L234.0,424.0 L229.0,424.0 L229.0,340.0 L230.0,330.0 L236.0,326.0 Z" fill="#000000"/>
<path d="M236.0,328.0 C235.0,328.0 233.0,329.7 232.0,332.0 C231.0,334.3 230.2,339.0 230.0,342.0 C229.8,345.0 230.2,348.7 231.0,350.0 C231.8,351.3 234.0,351.7 235.0,350.0 C236.0,348.3 236.5,343.0 237.0,340.0 C237.5,337.0 238.2,334.0 238.0,332.0 C237.8,330.0 237.0,328.0 236.0,328.0 Z" fill="#480a7a"/>
<path d="M236.0,330.0 C235.6,331.3 233.8,335.0 233.5,338.0 C233.2,341.0 233.9,346.3 234.0,348.0" fill="none" stroke="#0a28eb" stroke-width="1.5"/>
<path d="M241.0,300.0 C241.1,303.0 241.8,312.2 241.5,318.0 C241.2,323.8 239.4,332.2 239.0,335.0" fill="none" stroke="#14aaeb" stroke-width="1.2"/>
<path d="M238.5,298.0 L239.0,320.0" fill="none" stroke="#1464eb" stroke-width="1.2"/>
<path d="M236.5,345.0 L236.0,380.0" fill="none" stroke="#14aaeb" stroke-width="1"/>
<path d="M232.5,355.0 L232.5,415.0" fill="none" stroke="#0a1055" stroke-width="2.5"/>
</g>
</g></g>
<path d="M0.5,0.5 H270.5 V189.5 H0.5 Z" fill="none" stroke="#000" stroke-width="1" shape-rendering="crispEdges"/>
<text transform="translate(135.5,-6) scale(1,1.38)" text-anchor="middle" >Inverted Winds Meridional (warmside)</text>
<text transform="translate(-1.0,204) scale(1,1.38)" text-anchor="middle" >-90</text>
<text transform="translate(67.5,204) scale(1,1.38)" text-anchor="middle" >0</text>
<text transform="translate(135.5,204) scale(1,1.38)" text-anchor="middle" >90</text>
<text transform="translate(202.5,204) scale(1,1.38)" text-anchor="middle" >0</text>
<text transform="translate(269.0,204) scale(1,1.38)" text-anchor="middle" >-90</text>
<text transform="translate(134.0,217) scale(1,1.38)" text-anchor="middle" >Lat (deg)</text>
<text transform="translate(-4,189) scale(1,1.38)" text-anchor="end" >60</text>
<text transform="translate(-4,162) scale(1,1.38)" text-anchor="end" >70</text>
<text transform="translate(-4,130) scale(1,1.38)" text-anchor="end" >80</text>
<text transform="translate(-4,99) scale(1,1.38)" text-anchor="end" >90</text>
<text transform="translate(-4,68) scale(1,1.38)" text-anchor="end" >100</text>
<text transform="translate(-4,36) scale(1,1.38)" text-anchor="end" >110</text>
<text transform="translate(-4,7) scale(1,1.38)" text-anchor="end" >120</text>
<text transform="translate(-30,29.0) scale(1,1.22)" text-anchor="middle">A</text>
<text transform="translate(-30,38.8) scale(1,1.22)" text-anchor="middle">l</text>
<text transform="translate(-30,48.6) scale(1,1.22)" text-anchor="middle">t</text>
<text transform="translate(-30,58.4) scale(1,1.22)" text-anchor="middle">i</text>
<text transform="translate(-30,68.2) scale(1,1.22)" text-anchor="middle">t</text>
<text transform="translate(-30,78.0) scale(1,1.22)" text-anchor="middle">u</text>
<text transform="translate(-30,87.8) scale(1,1.22)" text-anchor="middle">d</text>
<text transform="translate(-30,97.6) scale(1,1.22)" text-anchor="middle">e</text>
<text transform="translate(-30,117.2) scale(1,1.22)" text-anchor="middle">(</text>
<text transform="translate(-30,127.0) scale(1,1.22)" text-anchor="middle">k</text>
<text transform="translate(-30,136.8) scale(1,1.22)" text-anchor="middle">m</text>
<text transform="translate(-30,146.6) scale(1,1.22)" text-anchor="middle">)</text>
<rect x="307" y="1.00" width="29" height="9.90" fill="#ff5af0" shape-rendering="crispEdges"/>
<rect x="307" y="10.40" width="29" height="9.90" fill="#ff37aa" shape-rendering="crispEdges"/>
<rect x="307" y="19.80" width="29" height="9.90" fill="#f5055f" shape-rendering="crispEdges"/>
<rect x="307" y="29.20" width="29" height="9.90" fill="#d8285f" shape-rendering="crispEdges"/>
<rect x="307" y="38.60" width="29" height="9.90" fill="#c04848" shape-rendering="crispEdges"/>
<rect x="307" y="48.00" width="29" height="9.90" fill="#d87828" shape-rendering="crispEdges"/>
<rect x="307" y="57.40" width="29" height="9.90" fill="#ffa500" shape-rendering="crispEdges"/>
<rect x="307" y="66.80" width="29" height="9.90" fill="#ffcd00" shape-rendering="crispEdges"/>
<rect x="307" y="76.20" width="29" height="9.90" fill="#fffa00" shape-rendering="crispEdges"/>
<rect x="307" y="85.60" width="29" height="9.90" fill="#b9fa14" shape-rendering="crispEdges"/>
<rect x="307" y="95.00" width="29" height="9.90" fill="#8cf028" shape-rendering="crispEdges"/>
<rect x="307" y="104.40" width="29" height="9.90" fill="#5af050" shape-rendering="crispEdges"/>
<rect x="307" y="113.80" width="29" height="9.90" fill="#1ef58c" shape-rendering="crispEdges"/>
<rect x="307" y="123.20" width="29" height="9.90" fill="#14dcb9" shape-rendering="crispEdges"/>
<rect x="307" y="132.60" width="29" height="9.90" fill="#14bee1" shape-rendering="crispEdges"/>
<rect x="307" y="142.00" width="29" height="9.90" fill="#146ee6" shape-rendering="crispEdges"/>
<rect x="307" y="151.40" width="29" height="9.90" fill="#0a2deb" shape-rendering="crispEdges"/>
<rect x="307" y="160.80" width="29" height="9.90" fill="#1414aa" shape-rendering="crispEdges"/>
<rect x="307" y="170.20" width="29" height="9.90" fill="#5a0a82" shape-rendering="crispEdges"/>
<rect x="307" y="179.60" width="29" height="9.90" fill="#2d0a46" shape-rendering="crispEdges"/>
<path d="M307.5,0.5 h28 v189 h-28 Z" fill="none" stroke="#000" shape-rendering="crispEdges"/>
<text transform="translate(376.5,3) scale(1,1.38)" text-anchor="end" >200.0</text>
<text transform="translate(376.5,26) scale(1,1.38)" text-anchor="end" >150.0</text>
<text transform="translate(376.5,50) scale(1,1.38)" text-anchor="end" >100.0</text>
<text transform="translate(376.5,74) scale(1,1.38)" text-anchor="end" >50.0</text>
<text transform="translate(376.5,97) scale(1,1.38)" text-anchor="end" >0.0</text>
<text transform="translate(376.5,120) scale(1,1.38)" text-anchor="end" >-50.0</text>
<text transform="translate(376.5,144) scale(1,1.38)" text-anchor="end" >-100.0</text>
<text transform="translate(376.5,168) scale(1,1.38)" text-anchor="end" >-150.0</text>
<text transform="translate(376.5,191) scale(1,1.38)" text-anchor="end" >-200.0</text>
<path d="M335.5,24.5 h-7 M335.5,48.5 h-7 M335.5,72.5 h-7 M335.5,95.5 h-7 M335.5,118.5 h-7 M335.5,142.5 h-7 M335.5,166.5 h-7" stroke="#000" stroke-width="1" fill="none" shape-rendering="crispEdges"/>
</g>
<g transform="translate(547,296)">
<path d="M0.5,189.5 h6 M270.5,189.5 h-6 M0.5,186.5 h3 M270.5,186.5 h-3 M0.5,183.5 h3 M270.5,183.5 h-3 M0.5,180.5 h3 M270.5,180.5 h-3 M0.5,176.5 h3 M270.5,176.5 h-3 M0.5,173.5 h3 M270.5,173.5 h-3 M0.5,170.5 h3 M270.5,170.5 h-3 M0.5,167.5 h3 M270.5,167.5 h-3 M0.5,164.5 h3 M270.5,164.5 h-3 M0.5,161.5 h3 M270.5,161.5 h-3 M0.5,158.5 h6 M270.5,158.5 h-6 M0.5,154.5 h3 M270.5,154.5 h-3 M0.5,151.5 h3 M270.5,151.5 h-3 M0.5,148.5 h3 M270.5,148.5 h-3 M0.5,145.5 h3 M270.5,145.5 h-3 M0.5,142.5 h3 M270.5,142.5 h-3 M0.5,139.5 h3 M270.5,139.5 h-3 M0.5,135.5 h3 M270.5,135.5 h-3 M0.5,132.5 h3 M270.5,132.5 h-3 M0.5,129.5 h3 M270.5,129.5 h-3 M0.5,126.5 h6 M270.5,126.5 h-6 M0.5,123.5 h3 M270.5,123.5 h-3 M0.5,120.5 h3 M270.5,120.5 h-3 M0.5,117.5 h3 M270.5,117.5 h-3 M0.5,113.5 h3 M270.5,113.5 h-3 M0.5,110.5 h3 M270.5,110.5 h-3 M0.5,107.5 h3 M270.5,107.5 h-3 M0.5,104.5 h3 M270.5,104.5 h-3 M0.5,101.5 h3 M270.5,101.5 h-3 M0.5,98.5 h3 M270.5,98.5 h-3 M0.5,94.5 h6 M270.5,94.5 h-6 M0.5,91.5 h3 M270.5,91.5 h-3 M0.5,88.5 h3 M270.5,88.5 h-3 M0.5,85.5 h3 M270.5,85.5 h-3 M0.5,82.5 h3 M270.5,82.5 h-3 M0.5,79.5 h3 M270.5,79.5 h-3 M0.5,76.5 h3 M270.5,76.5 h-3 M0.5,72.5 h3 M270.5,72.5 h-3 M0.5,69.5 h3 M270.5,69.5 h-3 M0.5,66.5 h3 M270.5,66.5 h-3 M0.5,63.5 h6 M270.5,63.5 h-6 M0.5,60.5 h3 M270.5,60.5 h-3 M0.5,57.5 h3 M270.5,57.5 h-3 M0.5,54.5 h3 M270.5,54.5 h-3 M0.5,50.5 h3 M270.5,50.5 h-3 M0.5,47.5 h3 M270.5,47.5 h-3 M0.5,44.5 h3 M270.5,44.5 h-3 M0.5,41.5 h3 M270.5,41.5 h-3 M0.5,38.5 h3 M270.5,38.5 h-3 M0.5,35.5 h3 M270.5,35.5 h-3 M0.5,32.5 h6 M270.5,32.5 h-6 M0.5,28.5 h3 M270.5,28.5 h-3 M0.5,25.5 h3 M270.5,25.5 h-3 M0.5,22.5 h3 M270.5,22.5 h-3 M0.5,19.5 h3 M270.5,19.5 h-3 M0.5,16.5 h3 M270.5,16.5 h-3 M0.5,13.5 h3 M270.5,13.5 h-3 M0.5,9.5 h3 M270.5,9.5 h-3 M0.5,6.5 h3 M270.5,6.5 h-3 M0.5,3.5 h3 M270.5,3.5 h-3 M0.5,0.5 h6 M270.5,0.5 h-6 M67.5,0.5 v5 M67.5,189.5 v-5 M135.5,0.5 v5 M135.5,189.5 v-5 M202.5,0.5 v5 M202.5,189.5 v-5" stroke="#000" stroke-width="1" fill="none" shape-rendering="crispEdges"/>
<g clip-path="url(#cp)"><g transform="translate(-547,-296)">
<clipPath id="b10"><path d="M571,295 H581.3 V421 L578.5,437 H573 L571,432 Z"/></clipPath>
<g clip-path="url(#b10)">
<path d="M571,295 H581.3 V421 L578.5,437 H573 L571,432 Z" fill="#000000"/>
<path d="M572.0,308.0 C572.1,307.1 573.7,307.1 573.8,308.0 C573.9,308.9 574.3,321.1 574.2,322.0 C574.1,322.9 572.1,322.9 572.0,322.0 C571.9,321.1 571.9,308.9 572.0,308.0 Z" fill="#5afa64"/>
<path d="M572.0,322.0 C572.1,321.3 574.1,321.3 574.2,322.0 C574.3,322.7 574.3,332.3 574.2,333.0 C574.1,333.7 572.1,333.7 572.0,333.0 C571.9,332.3 571.9,322.7 572.0,322.0 Z" fill="#1ef5aa"/>
<path d="M572.0,334.0 C572.1,332.1 574.0,332.9 574.2,334.0 C574.4,335.1 574.6,348.1 574.6,350.0 C574.6,351.9 573.8,361.2 573.6,362.0 C573.4,362.8 572.1,363.9 572.0,362.0 C571.9,360.1 571.9,335.9 572.0,334.0 Z" fill="#14aaeb"/>
<path d="M572.0,363.0 C572.1,362.4 573.9,362.4 574.0,363.0 C574.1,363.6 574.1,371.4 574.0,372.0 C573.9,372.6 572.1,372.6 572.0,372.0 C571.9,371.4 571.9,363.6 572.0,363.0 Z" fill="#1ef5aa"/>
<path d="M572.0,372.0 C572.1,371.3 573.9,371.3 574.0,372.0 C574.1,372.7 574.1,381.3 574.0,382.0 C573.9,382.7 572.1,382.7 572.0,382.0 C571.9,381.3 571.9,372.7 572.0,372.0 Z" fill="#5afa64"/>
<path d="M572.0,382.0 C572.1,380.8 573.7,380.8 573.8,382.0 C573.9,383.2 574.3,398.8 574.2,400.0 C574.1,401.2 572.1,401.2 572.0,400.0 C571.9,398.8 571.9,383.2 572.0,382.0 Z" fill="#aafa14"/>
<path d="M571.5,398.0 C571.8,396.5 573.6,398.2 574.0,399.0 C574.4,399.8 575.5,404.6 575.5,406.0 C575.5,407.4 574.9,412.2 574.5,413.0 C574.1,413.8 571.8,415.5 571.5,414.0 C571.2,412.5 571.2,399.5 571.5,398.0 Z" fill="#fffa14"/>
<path d="M571.0,418.0 C571.5,416.2 575.2,419.0 576.0,420.0 C576.8,421.0 578.8,426.2 579.0,428.0 C579.2,429.8 579.3,437.0 578.5,438.0 C577.7,439.0 571.8,440.0 571.0,438.0 C570.2,436.0 570.5,419.8 571.0,418.0 Z" fill="#1414aa"/>
<path d="M571.0,431.0 C571.6,430.5 579.5,430.5 580.0,431.0 C580.5,431.5 579.6,437.5 579.0,438.0 C578.4,438.5 571.5,438.5 571.0,438.0 C570.5,437.5 570.4,431.5 571.0,431.0 Z" fill="#480a7a"/>
<path d="M573.5,418.0 C573.8,419.0 574.8,422.0 575.0,424.0 C575.2,426.0 574.6,429.0 574.5,430.0" fill="none" stroke="#1464eb" stroke-width="1.5"/>
</g>
<clipPath id="b11"><path d="M624,336 Q624,329.2 631,329.2 H665 Q671.7,329.2 671.7,336 V418 L666.5,431 L661,437.5 H631 Q624,437.5 624,430 Z"/></clipPath>
<g clip-path="url(#b11)">
<path d="M624,336 Q624,329.2 631,329.2 H665 Q671.7,329.2 671.7,336 V418 L666.5,431 L661,437.5 H631 Q624,437.5 624,430 Z" fill="#2d0a46"/>
<rect x="624.8" y="330.1" width="46.200000000000045" height="106.5" rx="6" fill="#3e0a70"/>
<rect x="625.5" y="334.5" width="45.200000000000045" height="100.19999999999999" rx="6" fill="#1414aa" stroke="#000" stroke-width="0.8"/>
<rect x="627" y="338.5" width="42.700000000000045" height="93.19999999999999" rx="5" fill="#0a28eb" stroke="#000" stroke-width="0.8"/>
<rect x="628.5" y="342" width="40.0" height="86.69999999999999" rx="5" fill="#1464eb" stroke="#000" stroke-width="0.8"/>
<rect x="630" y="345.5" width="37.299999999999955" height="80.0" rx="4" fill="#14aaeb" stroke="#000" stroke-width="0.8"/>
<rect x="631.2" y="351" width="34.799999999999955" height="71" rx="4" fill="#14dcdc" stroke="#000" stroke-width="0.8"/>
<rect x="633.5" y="352" width="29.5" height="64" rx="1" fill="#14dcdc"/>
<path d="M633.0,346.0 L664.0,346.0 L663.0,352.0 L656.0,356.0 L652.0,359.0 L648.0,354.0 L640.0,351.0 L633.0,353.0 Z" fill="#14aaeb" stroke="#000" stroke-width="1.05" stroke-linejoin="round"/>
<path d="M633.0,356.0 L640.0,355.0 L646.0,362.0 L650.0,372.0 L654.0,374.0 L657.0,366.0 L660.0,356.0 L663.0,354.0 L663.0,416.0 L633.0,416.0 Z" fill="#1ef5aa" stroke="#000" stroke-width="1.05" stroke-linejoin="round"/>
<path d="M633.0,360.0 L639.0,359.0 L644.0,366.0 L648.0,378.0 L652.0,376.0 L656.0,385.0 L662.0,392.0 L663.0,416.0 L633.0,416.0 Z" fill="#5afa64" stroke="#000" stroke-width="1.05" stroke-linejoin="round"/>
<path d="M633.0,362.0 L639.0,362.0 L644.0,370.0 L648.0,378.0 L652.0,390.0 L658.0,398.0 L663.0,400.0 L663.0,416.0 L633.0,416.0 Z" fill="#aafa14" stroke="#000" stroke-width="1.05" stroke-linejoin="round"/>
<path d="M633.0,367.0 L638.0,368.0 L642.5,376.0 L645.0,390.0 L645.5,404.0 L642.0,413.0 L637.0,410.0 L633.0,404.0 Z" fill="#fffa14" stroke="#000" stroke-width="1.05" stroke-linejoin="round"/>
<rect x="633.2" y="412" width="30.299999999999955" height="6.5" rx="2" fill="#5afa64" stroke="#000" stroke-width="0.8"/>
<rect x="633" y="414.5" width="31" height="6.0" rx="2" fill="#1ef5aa" stroke="#000" stroke-width="0.8"/>
<rect x="631" y="417.6" width="35" height="5.399999999999977" rx="0" fill="#000000"/>
<rect x="631.2" y="418.3" width="34.799999999999955" height="3.3000000000000114" rx="0" fill="#14dcdc"/>
<path d="M663.3,358.0 L672.0,350.0 L672.0,420.0 L667.0,431.0 L663.8,420.0 Z" fill="#14087a" stroke="#000" stroke-width="1.05" stroke-linejoin="round"/>
<path d="M664.0,358.0 L664.0,418.0" fill="none" stroke="#000000" stroke-width="1.5"/>
<path d="M670.8,345.0 L670.8,420.0" fill="none" stroke="#000000" stroke-width="2"/>
<path d="M623.5,356.0 L633.0,358.0 L633.0,420.0 L627.0,428.0 L623.5,428.0 Z" fill="#000000" stroke="#000" stroke-width="1.05" stroke-linejoin="round"/>
<path d="M628.0,360.0 C627.9,366.7 627.3,390.0 627.5,400.0 C627.7,410.0 628.8,416.7 629.0,420.0" fill="none" stroke="#1464eb" stroke-width="1"/>
<path d="M630.5,360.0 L630.5,410.0" fill="none" stroke="#14aaeb" stroke-width="1"/>
<path d="M665.5,360.0 C665.5,367.5 665.7,395.0 665.5,405.0 C665.3,415.0 664.7,417.5 664.5,420.0" fill="none" stroke="#1464eb" stroke-width="1"/>
<path d="M668.5,352.0 C668.5,360.8 668.8,393.0 668.5,405.0 C668.2,417.0 666.8,420.8 666.5,424.0" fill="none" stroke="#1414aa" stroke-width="1.5"/>
</g>
<clipPath id="b12"><path d="M716,295 V326 Q710,330 709.5,340 V424 Q709.5,430 716,430 H721 L723,434 H731 L733,429.5 H758 L763,437 H792.5 V295 Z"/></clipPath>
<g clip-path="url(#b12)">
<path d="M716,295 V326 Q710,330 709.5,340 V424 Q709.5,430 716,430 H721 L723,434 H731 L733,429.5 H758 L763,437 H792.5 V295 Z" fill="#5afa64"/>
<path d="M724.0,296.0 C731.0,295.0 787.0,288.4 794.0,296.0 C801.0,303.6 794.4,364.8 794.0,372.0 C793.6,379.2 790.6,369.6 790.0,368.0 C789.4,366.4 788.6,358.2 788.0,356.0 C787.4,353.8 785.0,347.6 784.0,346.0 C783.0,344.4 779.4,340.8 778.0,340.0 C776.6,339.2 771.8,338.4 770.0,338.0 C768.2,337.6 762.0,336.4 760.0,336.0 C758.0,335.6 751.8,335.0 750.0,334.0 C748.2,333.0 743.6,327.6 742.0,326.0 C740.4,324.4 735.6,319.4 734.0,318.0 C732.4,316.6 727.0,313.2 726.0,312.0 C725.0,310.8 724.2,307.6 724.0,306.0 C723.8,304.4 717.0,297.0 724.0,296.0 Z" fill="#aafa14" stroke="#000" stroke-width="1.05"/>
<path d="M726.0,298.0 C732.5,297.2 787.2,291.6 794.0,298.0 C800.8,304.4 794.4,356.0 794.0,362.0 C793.6,368.0 790.6,359.2 790.0,358.0 C789.4,356.8 788.7,351.8 788.0,350.0 C787.3,348.2 784.2,341.5 783.0,340.0 C781.8,338.5 777.3,335.6 776.0,335.0 C774.7,334.4 771.4,334.3 770.0,334.0 C768.6,333.7 763.8,332.5 762.0,332.0 C760.2,331.5 753.7,330.1 752.0,329.0 C750.3,327.9 746.4,322.6 745.0,321.0 C743.6,319.4 739.6,314.5 738.0,313.0 C736.4,311.5 730.2,307.5 729.0,306.0 C727.8,304.5 719.5,298.8 726.0,298.0 Z" fill="#fffa14" stroke="#000" stroke-width="1.05"/>
<path d="M730.0,299.0 C735.7,298.6 783.9,294.9 790.0,299.0 C796.1,303.1 791.1,334.7 791.0,340.0 C790.9,345.3 789.6,351.8 789.0,352.0 C788.4,352.2 785.9,343.8 785.0,342.0 C784.1,340.2 781.3,335.2 780.0,334.0 C778.7,332.8 773.8,330.1 772.0,329.5 C770.2,328.9 763.8,328.6 762.0,328.0 C760.2,327.4 755.4,325.2 754.0,324.0 C752.6,322.8 749.2,317.5 748.0,316.0 C746.8,314.5 743.5,310.3 742.0,309.0 C740.5,307.7 734.2,304.0 733.0,303.0 C731.8,302.0 724.3,299.4 730.0,299.0 Z" fill="#ffcd00" stroke="#000" stroke-width="1.05"/>
<path d="M738.0,300.0 C742.3,299.5 782.9,297.0 788.0,300.0 C793.1,303.0 789.1,325.5 789.0,330.0 C788.9,334.5 787.6,344.4 787.0,345.0 C786.4,345.6 783.9,337.7 783.0,336.0 C782.1,334.3 779.1,329.2 778.0,328.0 C776.9,326.8 773.4,324.4 772.0,324.0 C770.6,323.6 765.6,323.9 764.0,323.5 C762.4,323.1 757.4,321.1 756.0,320.0 C754.6,318.9 751.1,313.5 750.0,312.0 C748.9,310.5 746.2,306.2 745.0,305.0 C743.8,303.8 733.7,300.5 738.0,300.0 Z" fill="#ffa500" stroke="#000" stroke-width="1.05"/>
<path d="M743.0,300.5 C746.5,299.8 780.7,298.8 785.0,300.5 C789.3,302.2 786.1,314.6 786.0,318.0 C785.9,321.4 784.6,333.2 784.0,334.0 C783.4,334.8 780.8,327.4 780.0,326.0 C779.2,324.6 777.0,320.7 776.0,320.0 C775.0,319.3 771.4,319.0 770.0,319.0 C768.6,319.0 763.4,320.3 762.0,320.0 C760.6,319.7 757.2,317.2 756.0,316.0 C754.8,314.8 751.3,309.6 750.0,308.0 C748.7,306.4 739.5,301.2 743.0,300.5 Z" fill="#d87828" stroke="#000" stroke-width="1.05"/>
<path d="M746.0,302.0 C747.0,301.0 758.8,301.1 760.0,302.0 C761.2,302.9 758.6,309.5 758.0,311.0 C757.4,312.5 754.8,316.9 754.0,317.0 C753.2,317.1 750.8,313.5 750.0,312.0 C749.2,310.5 745.0,303.0 746.0,302.0 Z" fill="#c04848" stroke="#000" stroke-width="1.05"/>
<path d="M748.5,303.0 C749.2,302.4 756.8,302.4 757.5,303.0 C758.2,303.6 756.5,307.9 756.0,309.0 C755.5,310.1 753.5,314.0 753.0,314.0 C752.5,314.0 751.0,310.1 750.5,309.0 C750.0,307.9 747.8,303.6 748.5,303.0 Z" fill="#cf3560" stroke="#000" stroke-width="1.05"/>
<path d="M768.0,302.0 C769.0,300.6 780.7,300.8 782.0,302.0 C783.3,303.2 781.5,312.1 781.0,314.0 C780.5,315.9 777.9,320.8 777.0,321.0 C776.1,321.2 772.9,317.9 772.0,316.0 C771.1,314.1 767.0,303.4 768.0,302.0 Z" fill="#c04848" stroke="#000" stroke-width="1.05"/>
<path d="M770.5,303.0 C771.2,302.2 778.6,302.1 779.5,303.0 C780.4,303.9 779.4,310.6 779.0,312.0 C778.6,313.4 776.6,317.1 776.0,317.0 C775.4,316.9 773.0,312.4 772.5,311.0 C772.0,309.6 769.8,303.8 770.5,303.0 Z" fill="#cf3560" stroke="#000" stroke-width="1.05"/>
<path d="M786.0,300.0 C786.2,305.0 786.5,321.7 787.0,330.0 C787.5,338.3 788.7,346.7 789.0,350.0" fill="none" stroke="#000000" stroke-width="0.9"/>
<path d="M724.0,322.0 C725.5,319.5 728.1,316.0 730.0,316.0 C731.9,316.0 736.3,319.9 738.0,322.0 C739.7,324.1 742.6,329.1 743.0,332.0 C743.4,334.9 742.2,341.6 741.0,344.0 C739.8,346.4 736.0,348.9 734.0,350.0 C732.0,351.1 728.0,352.0 726.0,352.0 C724.0,352.0 719.9,352.3 719.0,350.0 C718.1,347.7 718.3,338.7 719.0,335.0 C719.7,331.3 722.5,324.5 724.0,322.0 Z" fill="#1ef5aa" stroke="#000" stroke-width="1.05"/>
<path d="M727.0,330.0 C727.7,328.4 729.5,323.9 730.5,324.0 C731.5,324.1 734.0,329.0 734.5,331.0 C735.0,333.0 735.0,337.4 734.5,339.0 C734.0,340.6 732.0,342.7 731.0,343.0 C730.0,343.3 727.7,341.9 727.0,341.0 C726.3,340.1 725.5,337.5 725.5,336.0 C725.5,334.5 726.3,331.6 727.0,330.0 Z" fill="#14dcdc" stroke="#000" stroke-width="1.05"/>
<path d="M729.0,334.0 C729.0,333.4 730.7,329.5 731.0,329.5 C731.3,329.5 733.5,333.4 733.5,334.0 C733.5,334.6 731.8,339.0 731.5,339.0 C731.2,339.0 729.0,334.6 729.0,334.0 Z" fill="#14aaeb" stroke="#000" stroke-width="1.05"/>
<path d="M746.0,337.0 C746.2,335.8 747.5,335.4 748.0,335.5 C748.5,335.6 749.4,336.9 749.5,338.0 C749.6,339.1 749.4,343.1 749.0,344.0 C748.6,344.9 746.9,345.4 746.5,344.5 C746.1,343.6 745.8,338.2 746.0,337.0 Z" fill="#1ef5aa" stroke="#000" stroke-width="1.05"/>
<path d="M720.0,362.0 C721.5,359.6 726.8,355.6 730.0,354.0 C733.2,352.4 741.1,349.7 744.0,350.0 C746.9,350.3 750.4,353.1 752.0,356.0 C753.6,358.9 755.3,367.5 756.0,372.0 C756.7,376.5 757.5,387.3 757.0,390.0 C756.5,392.7 753.3,392.9 752.0,392.0 C750.7,391.1 749.1,384.5 747.0,383.0 C744.9,381.5 738.8,381.7 736.0,381.0 C733.2,380.3 728.3,379.2 726.0,378.0 C723.7,376.8 719.8,374.1 719.0,372.0 C718.2,369.9 718.5,364.4 720.0,362.0 Z" fill="#aafa14" stroke="#000" stroke-width="1.05"/>
<path d="M723.0,363.0 C724.1,361.5 728.3,358.6 731.0,357.5 C733.7,356.4 740.6,354.7 743.0,355.0 C745.4,355.3 748.3,358.0 749.0,360.0 C749.7,362.0 749.2,367.9 748.0,370.0 C746.8,372.1 742.5,375.3 740.0,376.0 C737.5,376.7 731.3,375.9 729.0,375.0 C726.7,374.1 723.8,370.6 723.0,369.0 C722.2,367.4 721.9,364.5 723.0,363.0 Z" fill="#fffa14" stroke="#000" stroke-width="1.05"/>
<path d="M727.0,363.0 C727.4,361.9 730.7,360.1 732.0,360.0 C733.3,359.9 735.8,362.6 737.0,362.5 C738.2,362.4 739.9,359.6 741.0,359.5 C742.1,359.4 744.7,360.9 745.0,362.0 C745.3,363.1 744.2,366.8 743.0,368.0 C741.8,369.2 737.9,371.0 736.0,371.0 C734.1,371.0 730.2,369.1 729.0,368.0 C727.8,366.9 726.6,364.1 727.0,363.0 Z" fill="#ffcd00" stroke="#000" stroke-width="1.05"/>
<path d="M754.0,340.0 L760.0,338.0 L766.0,346.0 L770.0,352.0 L774.0,348.0 L778.0,352.0 L782.0,362.0 L785.0,380.0 L786.0,420.0 L760.0,420.0 L758.0,408.0 L765.0,400.0 L763.0,386.0 L766.0,372.0 L760.0,362.0 L756.0,350.0 Z" fill="#1ef5aa" stroke="#000" stroke-width="1.05" stroke-linejoin="round"/>
<path d="M719.0,420.0 L719.0,408.0 L729.0,396.0 L738.0,402.0 L750.0,402.0 L758.0,408.0 L764.0,420.0 Z" fill="#1ef5aa" stroke="#000" stroke-width="1.05" stroke-linejoin="round"/>
<path d="M777.0,384.0 C777.0,383.2 779.6,378.0 780.0,378.0 C780.4,378.0 783.5,383.2 783.5,384.0 C783.5,384.8 780.9,390.0 780.5,390.0 C780.1,390.0 777.0,384.8 777.0,384.0 Z" fill="#14aaeb" stroke="#000" stroke-width="1.05"/>
<path d="M719.0,408.0 C719.5,406.6 723.0,401.2 724.0,400.0 C725.0,398.8 727.8,395.8 729.0,396.0 C730.2,396.2 734.5,400.6 736.0,402.0 C737.5,403.4 745.7,408.8 744.0,410.0 C742.3,411.2 721.5,414.2 719.0,414.0 C716.5,413.8 718.5,409.4 719.0,408.0 Z" fill="#14dcdc" stroke="#000" stroke-width="1.05"/>
<path d="M787.0,397.0 C787.3,395.2 789.4,392.1 790.0,392.0 C790.6,391.9 792.7,393.4 793.0,396.0 C793.3,398.6 793.4,415.6 793.0,418.0 C792.6,420.4 789.6,420.8 789.0,420.0 C788.4,419.2 787.2,412.3 787.0,410.0 C786.8,407.7 786.7,398.8 787.0,397.0 Z" fill="#aafa14" stroke="#000" stroke-width="1.05"/>
<path d="M783.0,404.0 C783.1,402.2 784.7,397.4 785.0,398.0 C785.3,398.6 786.1,408.2 786.0,410.0 C785.9,411.8 784.3,416.6 784.0,416.0 C783.7,415.4 782.9,405.8 783.0,404.0 Z" fill="#aafa14" stroke="#000" stroke-width="1.05"/>
<rect x="724" y="296" width="69" height="4.199999999999989" rx="0" fill="#000000"/>
<rect x="724" y="296" width="69" height="1.1999999999999886" rx="0" fill="#5afa64"/>
<rect x="724" y="297.8" width="69" height="0.8000000000000114" rx="0" fill="#aafa14"/>
<rect x="724" y="299.1" width="69" height="0.6999999999999886" rx="0" fill="#fffa14"/>
<path d="M710,423 Q709.5,430 716,430 H721 L723,434 H731 L733,429.5 H758 L763,437 H796" fill="none" stroke="#000" stroke-width="43.1" stroke-linejoin="round" stroke-linecap="round"/>
<path d="M710,423 Q709.5,430 716,430 H721 L723,434 H731 L733,429.5 H758 L763,437 H796" fill="none" stroke="#14dcdc" stroke-width="42.0" stroke-linejoin="round" stroke-linecap="round"/>
<path d="M710,423 Q709.5,430 716,430 H721 L723,434 H731 L733,429.5 H758 L763,437 H796" fill="none" stroke="#000" stroke-width="37.1" stroke-linejoin="round" stroke-linecap="round"/>
<path d="M710,423 Q709.5,430 716,430 H721 L723,434 H731 L733,429.5 H758 L763,437 H796" fill="none" stroke="#14aaeb" stroke-width="36.0" stroke-linejoin="round" stroke-linecap="round"/>
<path d="M710,423 Q709.5,430 716,430 H721 L723,434 H731 L733,429.5 H758 L763,437 H796" fill="none" stroke="#000" stroke-width="31.1" stroke-linejoin="round" stroke-linecap="round"/>
<path d="M710,423 Q709.5,430 716,430 H721 L723,434 H731 L733,429.5 H758 L763,437 H796" fill="none" stroke="#1464eb" stroke-width="30.0" stroke-linejoin="round" stroke-linecap="round"/>
<path d="M710,423 Q709.5,430 716,430 H721 L723,434 H731 L733,429.5 H758 L763,437 H796" fill="none" stroke="#000" stroke-width="25.1" stroke-linejoin="round" stroke-linecap="round"/>
<path d="M710,423 Q709.5,430 716,430 H721 L723,434 H731 L733,429.5 H758 L763,437 H796" fill="none" stroke="#0a28eb" stroke-width="24.0" stroke-linejoin="round" stroke-linecap="round"/>
<path d="M710,423 Q709.5,430 716,430 H721 L723,434 H731 L733,429.5 H758 L763,437 H796" fill="none" stroke="#000" stroke-width="19.1" stroke-linejoin="round" stroke-linecap="round"/>
<path d="M710,423 Q709.5,430 716,430 H721 L723,434 H731 L733,429.5 H758 L763,437 H796" fill="none" stroke="#1414aa" stroke-width="18.0" stroke-linejoin="round" stroke-linecap="round"/>
<path d="M710,423 Q709.5,430 716,430 H721 L723,434 H731 L733,429.5 H758 L763,437 H796" fill="none" stroke="#000" stroke-width="13.1" stroke-linejoin="round" stroke-linecap="round"/>
<path d="M710,423 Q709.5,430 716,430 H721 L723,434 H731 L733,429.5 H758 L763,437 H796" fill="none" stroke="#14087a" stroke-width="12.0" stroke-linejoin="round" stroke-linecap="round"/>
<path d="M710,423 Q709.5,430 716,430 H721 L723,434 H731 L733,429.5 H758 L763,437 H796" fill="none" stroke="#000" stroke-width="7.1" stroke-linejoin="round" stroke-linecap="round"/>
<path d="M710,423 Q709.5,430 716,430 H721 L723,434 H731 L733,429.5 H758 L763,437 H796" fill="none" stroke="#480a7a" stroke-width="6.0" stroke-linejoin="round" stroke-linecap="round"/>
<path d="M716.0,295.0 L724.0,295.0 L724.0,324.0 L721.0,334.0 L719.0,345.0 L718.0,415.0 L714.0,424.0 L709.0,424.0 L709.0,340.0 L710.0,330.0 L716.0,326.0 Z" fill="#000000"/>
<path d="M716.0,328.0 C715.0,328.0 713.0,329.7 712.0,332.0 C711.0,334.3 710.2,339.0 710.0,342.0 C709.8,345.0 710.2,348.7 711.0,350.0 C711.8,351.3 714.0,351.7 715.0,350.0 C716.0,348.3 716.5,343.0 717.0,340.0 C717.5,337.0 718.2,334.0 718.0,332.0 C717.8,330.0 717.0,328.0 716.0,328.0 Z" fill="#480a7a"/>
<path d="M716.0,330.0 C715.6,331.3 713.8,335.0 713.5,338.0 C713.2,341.0 713.9,346.3 714.0,348.0" fill="none" stroke="#0a28eb" stroke-width="1.5"/>
<path d="M721.0,300.0 C721.1,303.0 721.8,312.2 721.5,318.0 C721.2,323.8 719.4,332.2 719.0,335.0" fill="none" stroke="#14aaeb" stroke-width="1.2"/>
<path d="M718.5,298.0 L719.0,320.0" fill="none" stroke="#1464eb" stroke-width="1.2"/>
<path d="M716.5,345.0 L716.0,380.0" fill="none" stroke="#14aaeb" stroke-width="1"/>
<path d="M712.5,355.0 L712.5,415.0" fill="none" stroke="#0a1055" stroke-width="2.5"/>
</g>
</g></g>
<path d="M0.5,0.5 H270.5 V189.5 H0.5 Z" fill="none" stroke="#000" stroke-width="1" shape-rendering="crispEdges"/>
<text transform="translate(135.5,-6) scale(1,1.38)" text-anchor="middle" >Inverted Winds Zonal (warmside)</text>
<text transform="translate(-1.0,204) scale(1,1.38)" text-anchor="middle" >-90</text>
<text transform="translate(67.5,204) scale(1,1.38)" text-anchor="middle" >0</text>
<text transform="translate(135.5,204) scale(1,1.38)" text-anchor="middle" >90</text>
<text transform="translate(202.5,204) scale(1,1.38)" text-anchor="middle" >0</text>
<text transform="translate(269.0,204) scale(1,1.38)" text-anchor="middle" >-90</text>
<text transform="translate(134.0,217) scale(1,1.38)" text-anchor="middle" >Lat (deg)</text>
<text transform="translate(-4,189) scale(1,1.38)" text-anchor="end" >60</text>
<text transform="translate(-4,162) scale(1,1.38)" text-anchor="end" >70</text>
<text transform="translate(-4,130) scale(1,1.38)" text-anchor="end" >80</text>
<text transform="translate(-4,99) scale(1,1.38)" text-anchor="end" >90</text>
<text transform="translate(-4,68) scale(1,1.38)" text-anchor="end" >100</text>
<text transform="translate(-4,36) scale(1,1.38)" text-anchor="end" >110</text>
<text transform="translate(-4,7) scale(1,1.38)" text-anchor="end" >120</text>
<text transform="translate(-30,29.0) scale(1,1.22)" text-anchor="middle">A</text>
<text transform="translate(-30,38.8) scale(1,1.22)" text-anchor="middle">l</text>
<text transform="translate(-30,48.6) scale(1,1.22)" text-anchor="middle">t</text>
<text transform="translate(-30,58.4) scale(1,1.22)" text-anchor="middle">i</text>
<text transform="translate(-30,68.2) scale(1,1.22)" text-anchor="middle">t</text>
<text transform="translate(-30,78.0) scale(1,1.22)" text-anchor="middle">u</text>
<text transform="translate(-30,87.8) scale(1,1.22)" text-anchor="middle">d</text>
<text transform="translate(-30,97.6) scale(1,1.22)" text-anchor="middle">e</text>
<text transform="translate(-30,117.2) scale(1,1.22)" text-anchor="middle">(</text>
<text transform="translate(-30,127.0) scale(1,1.22)" text-anchor="middle">k</text>
<text transform="translate(-30,136.8) scale(1,1.22)" text-anchor="middle">m</text>
<text transform="translate(-30,146.6) scale(1,1.22)" text-anchor="middle">)</text>
<rect x="298" y="1.00" width="29" height="9.90" fill="#ff5af0" shape-rendering="crispEdges"/>
<rect x="298" y="10.40" width="29" height="9.90" fill="#ff37aa" shape-rendering="crispEdges"/>
<rect x="298" y="19.80" width="29" height="9.90" fill="#f5055f" shape-rendering="crispEdges"/>
<rect x="298" y="29.20" width="29" height="9.90" fill="#d8285f" shape-rendering="crispEdges"/>
<rect x="298" y="38.60" width="29" height="9.90" fill="#c04848" shape-rendering="crispEdges"/>
<rect x="298" y="48.00" width="29" height="9.90" fill="#d87828" shape-rendering="crispEdges"/>
<rect x="298" y="57.40" width="29" height="9.90" fill="#ffa500" shape-rendering="crispEdges"/>
<rect x="298" y="66.80" width="29" height="9.90" fill="#ffcd00" shape-rendering="crispEdges"/>
<rect x="298" y="76.20" width="29" height="9.90" fill="#fffa00" shape-rendering="crispEdges"/>
<rect x="298" y="85.60" width="29" height="9.90" fill="#b9fa14" shape-rendering="crispEdges"/>
<rect x="298" y="95.00" width="29" height="9.90" fill="#8cf028" shape-rendering="crispEdges"/>
<rect x="298" y="104.40" width="29" height="9.90" fill="#5af050" shape-rendering="crispEdges"/>
<rect x="298" y="113.80" width="29" height="9.90" fill="#1ef58c" shape-rendering="crispEdges"/>
<rect x="298" y="123.20" width="29" height="9.90" fill="#14dcb9" shape-rendering="crispEdges"/>
<rect x="298" y="132.60" width="29" height="9.90" fill="#14bee1" shape-rendering="crispEdges"/>
<rect x="298" y="142.00" width="29" height="9.90" fill="#146ee6" shape-rendering="crispEdges"/>
<rect x="298" y="151.40" width="29" height="9.90" fill="#0a2deb" shape-rendering="crispEdges"/>
<rect x="298" y="160.80" width="29" height="9.90" fill="#1414aa" shape-rendering="crispEdges"/>
<rect x="298" y="170.20" width="29" height="9.90" fill="#5a0a82" shape-rendering="crispEdges"/>
<rect x="298" y="179.60" width="29" height="9.90" fill="#2d0a46" shape-rendering="crispEdges"/>
<path d="M298.5,0.5 h28 v189 h-28 Z" fill="none" stroke="#000" shape-rendering="crispEdges"/>
<text transform="translate(367.5,3) scale(1,1.38)" text-anchor="end" >200.0</text>
<text transform="translate(367.5,26) scale(1,1.38)" text-anchor="end" >150.0</text>
<text transform="translate(367.5,50) scale(1,1.38)" text-anchor="end" >100.0</text>
<text transform="translate(367.5,74) scale(1,1.38)" text-anchor="end" >50.0</text>
<text transform="translate(367.5,97) scale(1,1.38)" text-anchor="end" >0.0</text>
<text transform="translate(367.5,120) scale(1,1.38)" text-anchor="end" >-50.0</text>
<text transform="translate(367.5,144) scale(1,1.38)" text-anchor="end" >-100.0</text>
<text transform="translate(367.5,168) scale(1,1.38)" text-anchor="end" >-150.0</text>
<text transform="translate(367.5,191) scale(1,1.38)" text-anchor="end" >-200.0</text>
<path d="M326.5,24.5 h-7 M326.5,48.5 h-7 M326.5,72.5 h-7 M326.5,95.5 h-7 M326.5,118.5 h-7 M326.5,142.5 h-7 M326.5,166.5 h-7" stroke="#000" stroke-width="1" fill="none" shape-rendering="crispEdges"/>
</g>
<text transform="translate(682,525) scale(1,1.38)" text-anchor="middle" >2011334v01 Wed Aug 10 09:30:40 2016</text>
</svg>
</body></html>
